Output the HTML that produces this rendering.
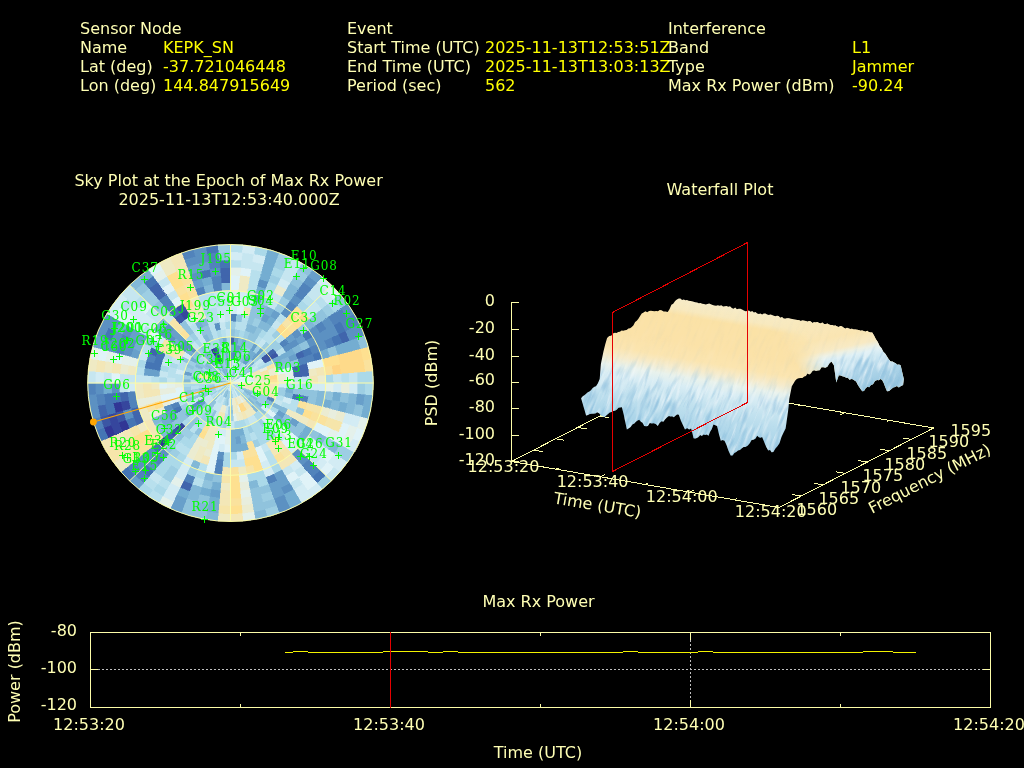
<!DOCTYPE html>
<html lang="en"><head><meta charset="utf-8"><title>Interference Event Report</title>
<style>
html,body{margin:0;padding:0;background:#000;width:1024px;height:768px;overflow:hidden}
svg{display:block;position:absolute;left:0;top:0}
text{font-family:"DejaVu Sans","Liberation Sans",sans-serif;font-size:16px;fill:#ffffb4}
.v{fill:#ffff00}
.s text{font-family:"DejaVu Serif","Liberation Serif",serif;font-size:12px;fill:#00ff00;letter-spacing:0.9px}
.c{text-anchor:middle}
.e{text-anchor:end}
</style></head><body>
<svg width="1024" height="768" viewBox="0 0 1024 768">
<rect width="1024" height="768" fill="#000"/>

<g id="header">
<text x="80" y="34">Sensor Node</text>
<text x="80" y="53">Name</text>
<text x="80" y="72">Lat (deg)</text>
<text x="80" y="91">Lon (deg)</text>
<text x="163" y="53" class="v">KEPK_SN</text>
<text x="163" y="72" class="v">-37.721046448</text>
<text x="163" y="91" class="v">144.847915649</text>
<text x="347" y="34">Event</text>
<text x="347" y="53">Start Time (UTC)</text>
<text x="347" y="72">End Time (UTC)</text>
<text x="347" y="91">Period (sec)</text>
<text x="485" y="53" class="v">2025-11-13T12:53:51Z</text>
<text x="485" y="72" class="v">2025-11-13T13:03:13Z</text>
<text x="485" y="91" class="v">562</text>
<text x="668" y="34">Interference</text>
<text x="668" y="53">Band</text>
<text x="668" y="72">Type</text>
<text x="668" y="91">Max Rx Power (dBm)</text>
<text x="852" y="53" class="v">L1</text>
<text x="852" y="72" class="v">Jammer</text>
<text x="852" y="91" class="v">-90.24</text>
</g>
<text class="c" x="228.6" y="186" textLength="308.4" lengthAdjust="spacing">Sky Plot at the Epoch of Max Rx Power</text>
<text class="c" x="229" y="204.5">2025-11-13T12:53:40.000Z</text>
<text class="c" x="720" y="195">Waterfall Plot</text>
<text class="c" x="538.5" y="607">Max Rx Power</text>
<g id="skycells" shape-rendering="crispEdges">
<path fill="#313695" stroke="#313695" stroke-width="0.4" d="M168.8 442.8L163.2 448.3L157.6 442.4L163.6 437.4ZM129.8 428.5L122.6 431.8L118.7 422.5L126.1 419.8ZM115.5 435.0L108.3 438.3L103.8 427.7L111.2 425.1ZM123.2 410.9L115.6 412.9L113.3 403.0L121.1 401.7ZM214.6 356.3L210.7 349.7L213.7 348.1L217.1 355.1Z"/>
<path fill="#36469d" stroke="#36469d" stroke-width="0.4" d="M185.6 426.5L180.0 432.0L175.8 427.5L181.9 422.6ZM122.6 431.8L115.5 435.0L111.2 425.1L118.7 422.5ZM118.7 422.5L111.2 425.1L107.9 414.9L115.6 412.9ZM130.9 408.9L123.2 410.9L121.1 401.7L128.9 400.4ZM185.0 320.0L180.4 313.7L186.9 309.7L190.8 316.4ZM220.4 362.1L217.1 355.1L219.6 354.1L222.4 361.3Z"/>
<path fill="#3b56a4" stroke="#3b56a4" stroke-width="0.4" d="M260.9 358.3L267.0 353.3L269.5 356.5L263.0 360.9ZM263.0 360.9L269.5 356.5L271.7 359.9L264.9 363.8ZM269.5 356.5L276.0 352.1L278.6 356.1L271.7 359.9ZM180.0 432.0L174.4 437.4L169.7 432.5L175.8 427.5ZM126.1 419.8L118.7 422.5L115.6 412.9L123.2 410.9ZM111.2 425.1L103.8 427.7L100.2 416.9L107.9 414.9ZM179.5 324.1L174.4 318.2L180.4 313.7L185.0 320.0ZM180.4 313.7L175.9 307.4L182.9 303.0L186.9 309.7ZM218.6 363.0L214.6 356.3L217.1 355.1L220.4 362.1ZM217.1 355.1L213.7 348.1L216.9 346.8L219.6 354.1Z"/>
<path fill="#4065ac" stroke="#4065ac" stroke-width="0.4" d="M230.5 344.5L230.5 336.8L234.6 337.0L234.0 344.7ZM267.0 353.3L273.0 348.4L276.0 352.1L269.5 356.5ZM295.2 353.7L302.4 350.5L305.0 356.7L297.6 359.3ZM338.4 334.2L345.5 331.0L349.8 340.9L342.3 343.5ZM291.8 367.1L299.5 365.1L300.8 371.0L293.0 372.3ZM299.5 365.1L307.1 363.1L308.6 369.6L300.8 371.0ZM293.0 372.3L300.8 371.0L301.6 377.0L293.7 377.6ZM300.8 371.0L308.6 369.6L309.5 376.3L301.6 377.0ZM192.5 484.2L189.8 491.5L180.2 487.6L183.6 480.6ZM174.4 437.4L168.8 442.8L163.6 437.4L169.7 432.5ZM144.2 422.0L137.0 425.3L133.6 417.2L141.0 414.6ZM141.0 414.6L133.6 417.2L130.9 408.9L138.5 406.9ZM107.9 414.9L100.2 416.9L97.7 405.7L105.5 404.4ZM128.9 400.4L121.1 401.7L119.9 392.4L127.8 391.7ZM156.0 356.7L148.5 354.1L151.4 347.2L158.6 350.5ZM159.1 300.5L154.0 294.6L162.2 288.5L166.8 294.8ZM154.0 294.6L148.9 288.7L157.7 282.2L162.2 288.5ZM221.5 283.4L220.8 275.7L230.5 275.3L230.5 283.0ZM220.8 275.7L220.1 268.0L230.5 267.6L230.5 275.3Z"/>
<path fill="#4575b4" stroke="#4575b4" stroke-width="0.4" d="M302.0 334.5L308.5 330.0L312.9 336.8L306.1 340.7ZM333.6 325.3L340.4 321.4L345.5 331.0L338.4 334.2ZM302.4 350.5L309.6 347.2L312.5 354.1L305.0 356.7ZM331.2 337.5L338.4 334.2L342.3 343.5L334.9 346.2ZM312.5 354.1L320.0 351.4L322.5 359.1L314.8 361.1ZM293.0 393.7L300.8 395.0L299.5 400.9L291.8 398.9ZM320.3 470.1L325.9 475.5L317.2 483.2L312.1 477.3ZM154.0 471.4L148.9 477.3L140.7 470.1L146.4 464.6ZM163.2 448.3L157.6 453.7L151.5 447.3L157.6 442.4ZM135.1 475.5L129.5 480.9L121.1 472.0L127.2 467.1ZM182.4 409.9L175.5 413.8L173.0 409.0L180.2 405.8ZM137.0 425.3L129.8 428.5L126.1 419.8L133.6 417.2ZM108.3 438.3L101.1 441.5L96.3 430.4L103.8 427.7ZM115.6 412.9L107.9 414.9L105.5 404.4L113.3 403.0ZM121.1 401.7L113.3 403.0L112.0 393.1L119.9 392.4ZM113.3 403.0L105.5 404.4L104.0 393.7L112.0 393.1ZM160.2 371.0L152.4 369.6L153.9 363.1L161.5 365.1ZM152.4 369.6L144.6 368.3L146.2 361.1L153.9 363.1ZM161.5 365.1L153.9 363.1L156.0 356.7L163.4 359.3ZM163.4 359.3L156.0 356.7L158.6 350.5L165.8 353.7ZM111.2 340.9L103.8 338.3L108.3 327.7L115.5 331.0ZM174.4 318.2L169.3 312.3L175.9 307.4L180.4 313.7ZM148.9 288.7L143.8 282.8L153.1 275.9L157.7 282.2ZM201.8 278.9L199.7 271.5L209.8 269.3L211.2 276.9ZM207.1 254.2L205.7 246.6L218.1 245.0L218.7 252.7ZM220.1 268.0L219.4 260.4L230.5 259.9L230.5 267.6Z"/>
<path fill="#5183bb" stroke="#5183bb" stroke-width="0.4" d="M230.5 321.4L230.5 313.8L236.7 314.0L236.0 321.7ZM232.6 360.0L233.3 352.3L236.0 352.7L234.6 360.3ZM285.1 307.4L289.7 301.1L296.8 306.4L291.7 312.3ZM294.2 294.8L298.8 288.5L307.0 294.6L301.9 300.5ZM298.8 288.5L303.3 282.2L312.1 288.7L307.0 294.6ZM279.1 343.4L285.2 338.5L289.0 343.3L282.5 347.7ZM315.0 325.6L321.5 321.2L326.7 329.1L319.8 333.0ZM328.0 316.8L334.5 312.4L340.4 321.4L333.6 325.3ZM334.5 312.4L341.0 308.0L347.3 317.6L340.4 321.4ZM340.4 321.4L347.3 317.6L352.7 327.7L345.5 331.0ZM347.3 317.6L354.2 313.8L359.9 324.5L352.7 327.7ZM309.6 347.2L316.8 344.0L320.0 351.4L312.5 354.1ZM324.0 340.7L331.2 337.5L334.9 346.2L327.4 348.8ZM297.6 359.3L305.0 356.7L307.1 363.1L299.5 365.1ZM305.0 356.7L312.5 354.1L314.8 361.1L307.1 363.1ZM300.8 395.0L308.6 396.4L307.1 402.9L299.5 400.9ZM267.8 396.2L275.2 398.8L273.6 402.5L266.5 399.3ZM309.0 459.2L314.6 464.6L307.0 471.4L301.9 465.5ZM314.6 464.6L320.3 470.1L312.1 477.3L307.0 471.4ZM274.1 473.7L277.4 480.6L268.5 484.2L265.8 477.0ZM223.6 459.7L222.9 467.3L215.3 466.4L216.7 458.8ZM222.9 467.3L222.2 475.0L214.0 473.9L215.3 466.4ZM195.2 477.0L192.5 484.2L183.6 480.6L186.9 473.7ZM164.2 459.6L159.1 465.5L152.0 459.2L157.6 453.7ZM148.9 477.3L143.8 483.2L135.1 475.5L140.7 470.1ZM140.7 470.1L135.1 475.5L127.2 467.1L133.3 462.1ZM204.5 400.7L198.0 405.1L196.1 402.2L203.0 398.4ZM180.2 405.8L173.0 409.0L170.9 404.1L178.3 401.4ZM103.8 427.7L96.3 430.4L92.6 418.8L100.2 416.9ZM138.5 406.9L130.9 408.9L128.9 400.4L136.7 399.0ZM136.7 399.0L128.9 400.4L127.8 391.7L135.7 391.0ZM105.5 404.4L97.7 405.7L96.1 394.4L104.0 393.7ZM96.1 394.4L88.2 395.1L87.7 383.0L95.6 383.0ZM153.9 363.1L146.2 361.1L148.5 354.1L156.0 356.7ZM123.2 355.1L115.6 353.1L118.7 343.5L126.1 346.2ZM126.1 346.2L118.7 343.5L122.6 334.2L129.8 337.5ZM169.3 312.3L164.2 306.4L171.3 301.1L175.9 307.4ZM164.2 306.4L159.1 300.5L166.8 294.8L171.3 301.1ZM197.9 296.2L195.2 289.0L203.8 286.4L205.9 293.8ZM184.4 260.1L181.7 252.9L193.5 249.2L195.6 256.7ZM214.0 292.1L212.6 284.5L221.5 283.4L222.2 291.0ZM212.6 284.5L211.2 276.9L220.8 275.7L221.5 283.4ZM209.8 269.3L208.5 261.8L219.4 260.4L220.1 268.0ZM208.5 261.8L207.1 254.2L218.7 252.7L219.4 260.4Z"/>
<path fill="#5c91c2" stroke="#5c91c2" stroke-width="0.4" d="M230.5 359.9L230.5 352.2L233.3 352.3L232.6 360.0ZM257.2 286.4L259.2 278.9L268.5 281.8L265.8 289.0ZM280.6 313.7L285.1 307.4L291.7 312.3L286.6 318.2ZM289.7 301.1L294.2 294.8L301.9 300.5L296.8 306.4ZM303.3 282.2L307.9 275.9L317.2 282.8L312.1 288.7ZM291.3 333.5L297.4 328.6L302.0 334.5L295.5 338.9ZM282.5 347.7L289.0 343.3L292.3 348.4L285.5 352.2ZM289.0 343.3L295.5 338.9L299.2 344.5L292.3 348.4ZM308.5 330.0L315.0 325.6L319.8 333.0L312.9 336.8ZM321.5 321.2L328.0 316.8L333.6 325.3L326.7 329.1ZM341.0 308.0L347.5 303.6L354.2 313.8L347.3 317.6ZM306.1 340.7L312.9 336.8L316.8 344.0L309.6 347.2ZM312.9 336.8L319.8 333.0L324.0 340.7L316.8 344.0ZM319.8 333.0L326.7 329.1L331.2 337.5L324.0 340.7ZM326.7 329.1L333.6 325.3L338.4 334.2L331.2 337.5ZM316.8 344.0L324.0 340.7L327.4 348.8L320.0 351.4ZM345.5 331.0L352.7 327.7L357.2 338.3L349.8 340.9ZM352.7 327.7L359.9 324.5L364.7 335.6L357.2 338.3ZM297.8 448.3L303.4 453.7L296.8 459.6L291.7 453.7ZM303.4 453.7L309.0 459.2L301.9 465.5L296.8 459.6ZM290.0 483.0L294.0 489.6L284.1 494.6L280.8 487.6ZM284.1 494.6L287.5 501.6L276.6 505.9L273.9 498.7ZM287.5 501.6L290.8 508.5L279.3 513.1L276.6 505.9ZM224.3 452.0L223.6 459.7L216.7 458.8L218.1 451.2ZM169.3 453.7L164.2 459.6L157.6 453.7L163.2 448.3ZM159.1 465.5L154.0 471.4L146.4 464.6L152.0 459.2ZM157.6 453.7L152.0 459.2L145.4 452.2L151.5 447.3ZM152.0 459.2L146.4 464.6L139.3 457.2L145.4 452.2ZM146.4 464.6L140.7 470.1L133.3 462.1L139.3 457.2ZM198.0 405.1L191.5 409.5L189.3 406.1L196.1 402.2ZM173.0 409.0L165.8 412.3L163.4 406.7L170.9 404.1ZM133.6 417.2L126.1 419.8L123.2 410.9L130.9 408.9ZM100.2 416.9L92.6 418.8L89.9 407.1L97.7 405.7ZM97.7 405.7L89.9 407.1L88.2 395.1L96.1 394.4ZM119.9 392.4L112.0 393.1L111.5 383.0L119.4 383.0ZM104.0 393.7L96.1 394.4L95.6 383.0L103.6 383.0ZM130.9 357.1L123.2 355.1L126.1 346.2L133.6 348.8ZM115.6 353.1L107.9 351.1L111.2 340.9L118.7 343.5ZM107.9 351.1L100.2 349.1L103.8 338.3L111.2 340.9ZM133.6 348.8L126.1 346.2L129.8 337.5L137.0 340.7ZM118.7 343.5L111.2 340.9L115.5 331.0L122.6 334.2ZM103.8 338.3L96.3 335.6L101.1 324.5L108.3 327.7ZM129.8 337.5L122.6 334.2L127.4 325.3L134.3 329.1ZM115.5 331.0L108.3 327.7L113.7 317.6L120.6 321.4ZM108.3 327.7L101.1 324.5L106.8 313.8L113.7 317.6ZM185.0 352.1L178.5 347.7L181.9 343.4L188.0 348.4ZM172.0 343.3L165.5 338.9L169.7 333.5L175.8 338.5ZM165.5 338.9L159.0 334.5L163.6 328.6L169.7 333.5ZM194.0 353.3L188.0 348.4L191.2 344.9L196.8 350.4ZM188.0 348.4L181.9 343.4L185.6 339.5L191.2 344.9ZM169.7 333.5L163.6 328.6L168.8 323.2L174.4 328.6ZM192.5 281.8L189.8 274.5L199.7 271.5L201.8 278.9ZM187.1 267.3L184.4 260.1L195.6 256.7L197.6 264.1ZM216.1 331.0L214.1 323.5L219.5 322.4L220.9 330.0ZM197.6 264.1L195.6 256.7L207.1 254.2L208.5 261.8ZM195.6 256.7L193.5 249.2L205.7 246.6L207.1 254.2ZM211.2 276.9L209.8 269.3L220.1 268.0L220.8 275.7Z"/>
<path fill="#689fca" stroke="#689fca" stroke-width="0.4" d="M233.3 352.3L234.0 344.7L237.4 345.1L236.0 352.7ZM234.0 344.7L234.6 337.0L238.8 337.5L237.4 345.1ZM236.0 352.7L237.4 345.1L240.8 345.8L238.7 353.3ZM253.1 301.2L255.1 293.8L263.1 296.2L260.3 303.5ZM260.7 320.2L264.0 313.3L270.2 316.4L266.2 323.0ZM242.4 363.0L246.4 356.3L248.7 357.8L244.2 364.1ZM250.3 349.7L254.3 343.0L257.8 345.2L253.3 351.5ZM270.2 316.4L274.1 309.7L280.6 313.7L276.0 320.0ZM244.2 364.1L248.7 357.8L250.9 359.4L245.8 365.3ZM307.9 275.9L312.4 269.5L322.3 276.9L317.2 282.8ZM250.9 359.4L256.0 353.5L258.5 355.8L252.9 361.2ZM256.0 353.5L261.1 347.6L264.2 350.4L258.5 355.8ZM285.2 338.5L291.3 333.5L295.5 338.9L289.0 343.3ZM295.5 338.9L302.0 334.5L306.1 340.7L299.2 344.5ZM288.0 357.0L295.2 353.7L297.6 359.3L290.1 361.9ZM357.0 393.7L364.9 394.4L363.3 405.7L355.5 404.4ZM278.6 409.9L285.5 413.8L282.5 418.3L276.0 413.9ZM292.3 417.6L299.2 421.5L295.5 427.1L289.0 422.7ZM282.1 469.6L286.0 476.3L277.4 480.6L274.1 473.7ZM286.0 476.3L290.0 483.0L280.8 487.6L277.4 480.6ZM277.4 480.6L280.8 487.6L271.2 491.5L268.5 484.2ZM280.8 487.6L284.1 494.6L273.9 498.7L271.2 491.5ZM240.1 436.0L241.5 443.6L236.0 444.3L235.3 436.7ZM220.8 490.3L220.1 498.0L209.8 496.7L211.2 489.1ZM187.1 498.7L184.4 505.9L173.5 501.6L176.9 494.6ZM184.4 505.9L181.7 513.1L170.2 508.5L173.5 501.6ZM143.8 483.2L138.7 489.1L129.5 480.9L135.1 475.5ZM206.2 402.8L200.1 407.7L198.0 405.1L204.5 400.7ZM200.1 407.7L194.0 412.7L191.5 409.5L198.0 405.1ZM178.5 418.3L172.0 422.7L168.7 417.6L175.5 413.8ZM175.5 413.8L168.7 417.6L165.8 412.3L173.0 409.0ZM222.6 382.3L214.7 381.7L214.9 380.3L222.7 381.7ZM159.4 377.0L151.5 376.3L152.4 369.6L160.2 371.0ZM151.5 376.3L143.6 375.6L144.6 368.3L152.4 369.6ZM191.4 376.3L183.6 375.0L184.5 371.1L192.2 373.0ZM138.5 359.1L130.9 357.1L133.6 348.8L141.0 351.4ZM100.2 349.1L92.6 347.2L96.3 335.6L103.8 338.3ZM144.2 344.0L137.0 340.7L141.2 333.0L148.1 336.8ZM137.0 340.7L129.8 337.5L134.3 329.1L141.2 333.0ZM181.9 343.4L175.8 338.5L180.0 334.0L185.6 339.5ZM175.8 338.5L169.7 333.5L174.4 328.6L180.0 334.0ZM213.7 366.7L208.1 361.2L210.1 359.4L215.2 365.3ZM230.5 383.0L225.9 376.7L226.5 376.3ZM195.2 289.0L192.5 281.8L201.8 278.9L203.8 286.4ZM189.8 274.5L187.1 267.3L197.6 264.1L199.7 271.5ZM199.7 271.5L197.6 264.1L208.5 261.8L209.8 269.3Z"/>
<path fill="#74add1" stroke="#74add1" stroke-width="0.4" d="M230.5 383.0L230.5 375.3L231.2 375.3ZM230.5 352.2L230.5 344.5L234.0 344.7L233.3 352.3ZM240.8 345.8L242.8 338.4L246.8 339.6L244.1 346.8ZM255.1 293.8L257.2 286.4L265.8 289.0L263.1 296.2ZM259.2 278.9L261.3 271.5L271.2 274.5L268.5 281.8ZM261.3 271.5L263.4 264.1L273.9 267.3L271.2 274.5ZM263.4 264.1L265.4 256.7L276.6 260.1L273.9 267.3ZM265.4 256.7L267.5 249.2L279.3 252.9L276.6 260.1ZM264.0 313.3L267.4 306.3L274.1 309.7L270.2 316.4ZM246.4 356.3L250.3 349.7L253.3 351.5L248.7 357.8ZM266.2 323.0L270.2 316.4L276.0 320.0L271.5 326.3ZM248.7 357.8L253.3 351.5L256.0 353.5L250.9 359.4ZM240.7 371.2L245.8 365.3L247.3 366.7L241.7 372.1ZM247.3 366.7L252.9 361.2L254.8 363.2L248.7 368.2ZM271.7 359.9L278.6 356.1L280.8 360.2L273.6 363.5ZM278.6 356.1L285.5 352.2L288.0 357.0L280.8 360.2ZM285.5 352.2L292.3 348.4L295.2 353.7L288.0 357.0ZM273.6 363.5L280.8 360.2L282.7 364.6L275.2 367.2ZM320.0 351.4L327.4 348.8L330.1 357.1L322.5 359.1ZM334.9 346.2L342.3 343.5L345.4 353.1L337.8 355.1ZM342.3 343.5L349.8 340.9L353.1 351.1L345.4 353.1ZM349.8 340.9L357.2 338.3L360.8 349.1L353.1 351.1ZM285.8 387.7L293.7 388.4L293.0 393.7L285.2 392.4ZM333.2 391.7L341.1 392.4L339.9 401.7L332.1 400.4ZM364.9 394.4L372.8 395.1L371.1 407.1L363.3 405.7ZM324.3 399.0L332.1 400.4L330.1 408.9L322.5 406.9ZM339.9 401.7L347.7 403.0L345.4 412.9L337.8 410.9ZM363.3 405.7L371.1 407.1L368.4 418.8L360.8 416.9ZM306.1 425.3L312.9 429.2L308.5 436.0L302.0 431.5ZM276.0 413.9L282.5 418.3L279.1 422.6L273.0 417.6ZM302.0 431.5L308.5 436.0L303.4 442.4L297.4 437.4ZM294.0 489.6L297.9 496.3L287.5 501.6L284.1 494.6ZM297.9 496.3L301.9 502.9L290.8 508.5L287.5 501.6ZM242.8 427.6L244.9 435.0L240.1 436.0L238.8 428.5ZM246.9 442.5L249.0 449.9L242.9 451.2L241.5 443.6ZM238.8 428.5L240.1 436.0L235.3 436.7L234.6 429.0ZM241.5 443.6L242.9 451.2L236.7 452.0L236.0 444.3ZM234.6 429.0L235.3 436.7L230.5 436.9L230.5 429.2ZM235.3 436.7L236.0 444.3L230.5 444.6L230.5 436.9ZM236.0 444.3L236.7 452.0L230.5 452.2L230.5 444.6ZM221.5 482.6L220.8 490.3L211.2 489.1L212.6 481.5ZM220.1 498.0L219.4 505.6L208.5 504.2L209.8 496.7ZM219.4 505.6L218.7 513.3L207.1 511.8L208.5 504.2ZM211.2 489.1L209.8 496.7L199.7 494.5L201.8 487.1ZM189.8 491.5L187.1 498.7L176.9 494.6L180.2 487.6ZM194.0 412.7L188.0 417.6L185.0 413.9L191.5 409.5ZM172.0 422.7L165.5 427.1L161.8 421.5L168.7 417.6ZM168.7 417.6L161.8 421.5L158.6 415.5L165.8 412.3ZM112.0 393.1L104.0 393.7L103.6 383.0L111.5 383.0ZM222.6 383.0L214.6 383.0L214.7 381.7L222.6 382.3ZM230.5 383.0L222.7 381.7L222.8 381.0ZM141.0 351.4L133.6 348.8L137.0 340.7L144.2 344.0ZM216.1 376.5L208.9 373.2L209.9 371.5L216.8 375.3ZM122.6 334.2L115.5 331.0L120.6 321.4L127.4 325.3ZM196.1 363.8L189.3 359.9L191.5 356.5L198.0 360.9ZM191.5 356.5L185.0 352.1L188.0 348.4L194.0 353.3ZM178.5 347.7L172.0 343.3L175.8 338.5L181.9 343.4ZM159.0 334.5L152.5 330.0L157.6 323.6L163.6 328.6ZM230.5 383.0L224.4 378.1L224.9 377.6ZM143.8 282.8L138.7 276.9L148.6 269.5L153.1 275.9ZM216.8 364.1L212.3 357.8L214.6 356.3L218.6 363.0ZM226.5 376.3L222.6 369.7L223.8 369.1L227.1 376.0ZM222.6 369.7L218.6 363.0L220.4 362.1L223.8 369.1ZM198.8 329.7L194.8 323.0L200.3 320.2L203.7 327.2ZM227.8 375.8L225.1 368.5L226.4 368.1L228.4 375.6ZM230.5 383.0L228.4 375.6L229.1 375.4ZM203.8 286.4L201.8 278.9L211.2 276.9L212.6 284.5ZM227.7 367.8L226.4 360.3L228.4 360.0L229.1 367.7ZM226.4 360.3L225.0 352.7L227.7 352.3L228.4 360.0ZM223.6 345.1L222.2 337.5L226.4 337.0L227.0 344.7Z"/>
<path fill="#82b8d7" stroke="#82b8d7" stroke-width="0.4" d="M230.5 383.0L231.9 375.4L232.6 375.6ZM237.4 345.1L238.8 337.5L242.8 338.4L240.8 345.8ZM238.7 353.3L240.8 345.8L244.1 346.8L241.4 354.1ZM244.9 331.0L246.9 323.5L252.2 325.2L249.5 332.4ZM249.5 332.4L252.2 325.2L257.3 327.2L254.0 334.2ZM257.6 310.7L260.3 303.5L267.4 306.3L264.0 313.3ZM230.5 383.0L233.9 376.0L234.5 376.3ZM240.6 362.1L243.9 355.1L246.4 356.3L242.4 363.0ZM257.3 327.2L260.7 320.2L266.2 323.0L262.2 329.7ZM230.5 383.0L234.5 376.3L235.1 376.7ZM262.2 329.7L266.2 323.0L271.5 326.3L266.9 332.6ZM282.1 296.4L286.0 289.7L294.2 294.8L289.7 301.1ZM286.0 289.7L290.0 283.0L298.8 288.5L294.2 294.8ZM303.4 323.6L309.5 318.7L315.0 325.6L308.5 330.0ZM237.0 378.6L243.5 374.2L244.2 375.3L237.4 379.2ZM292.3 348.4L299.2 344.5L302.4 350.5L295.2 353.7ZM280.8 360.2L288.0 357.0L290.1 361.9L282.7 364.6ZM275.2 367.2L282.7 364.6L284.1 369.1L276.5 371.1ZM317.4 390.4L325.3 391.0L324.3 399.0L316.4 397.7ZM349.0 393.1L357.0 393.7L355.5 404.4L347.7 403.0ZM285.2 392.4L293.0 393.7L291.8 398.9L284.1 396.9ZM316.4 397.7L324.3 399.0L322.5 406.9L314.8 404.9ZM332.1 400.4L339.9 401.7L337.8 410.9L330.1 408.9ZM347.7 403.0L355.5 404.4L353.1 414.9L345.4 412.9ZM252.9 390.9L260.3 393.5L259.3 396.0L252.1 392.8ZM237.7 386.3L244.9 389.5L244.2 390.7L237.4 386.8ZM244.9 389.5L252.1 392.8L251.1 394.5L244.2 390.7ZM266.5 399.3L273.6 402.5L271.7 406.1L264.9 402.2ZM273.6 402.5L280.8 405.8L278.6 409.9L271.7 406.1ZM280.8 405.8L288.0 409.0L285.5 413.8L278.6 409.9ZM244.2 390.7L251.1 394.5L250.0 396.2L243.5 391.8ZM251.1 394.5L258.0 398.4L256.5 400.7L250.0 396.2ZM319.8 433.0L326.7 436.9L321.5 444.8L315.0 440.4ZM333.6 440.7L340.4 444.6L334.5 453.6L328.0 449.2ZM256.5 400.7L263.0 405.1L260.9 407.7L254.8 402.8ZM282.5 418.3L289.0 422.7L285.2 427.5L279.1 422.6ZM248.7 397.8L254.8 402.8L252.9 404.8L247.3 399.3ZM252.9 404.8L258.5 410.2L256.0 412.5L250.9 406.6ZM244.9 435.0L246.9 442.5L241.5 443.6L240.1 436.0ZM257.2 479.6L259.2 487.1L249.8 489.1L248.4 481.5ZM265.4 509.3L267.5 516.8L255.3 519.4L253.9 511.8ZM218.7 513.3L218.1 521.0L205.7 519.4L207.1 511.8ZM214.0 473.9L212.6 481.5L203.8 479.6L205.9 472.2ZM208.5 504.2L207.1 511.8L195.6 509.3L197.6 501.9ZM228.4 390.4L226.4 397.9L225.1 397.5L227.8 390.2ZM201.8 487.1L199.7 494.5L189.8 491.5L192.5 484.2ZM199.7 494.5L197.6 501.9L187.1 498.7L189.8 491.5ZM200.7 462.5L197.9 469.8L190.3 466.7L193.6 459.7ZM175.8 427.5L169.7 432.5L165.5 427.1L172.0 422.7ZM169.7 432.5L163.6 437.4L159.0 431.5L165.5 427.1ZM161.8 421.5L154.9 425.3L151.4 418.8L158.6 415.5ZM207.5 389.0L199.8 391.0L199.2 388.3L207.1 387.0ZM190.8 383.0L182.9 383.0L183.1 379.0L191.0 379.6ZM214.7 381.7L206.8 381.0L207.1 379.0L214.9 380.3ZM198.9 380.3L191.0 379.6L191.4 376.3L199.2 377.7ZM222.7 381.7L214.9 380.3L215.2 379.0L222.8 381.0ZM208.1 375.1L200.7 372.5L201.7 370.0L208.9 373.2ZM201.7 370.0L194.5 366.7L196.1 363.8L203.0 367.6ZM223.6 379.2L216.8 375.3L217.5 374.2L224.0 378.6ZM211.0 369.8L204.5 365.3L206.2 363.2L212.3 368.2ZM163.6 328.6L157.6 323.6L163.2 317.7L168.8 323.2ZM224.9 377.6L219.3 372.1L220.3 371.2L225.4 377.1ZM208.1 361.2L202.5 355.8L205.0 353.5L210.1 359.4ZM135.1 290.5L129.5 285.1L138.7 276.9L143.8 282.8ZM220.3 371.2L215.2 365.3L216.8 364.1L221.4 370.4ZM215.2 365.3L210.1 359.4L212.3 357.8L216.8 364.1ZM210.1 359.4L205.0 353.5L207.7 351.5L212.3 357.8ZM225.9 376.7L221.4 370.4L222.6 369.7L226.5 376.3ZM212.3 357.8L207.7 351.5L210.7 349.7L214.6 356.3ZM206.7 343.0L202.7 336.4L207.0 334.2L210.4 341.2ZM227.1 376.0L223.8 369.1L225.1 368.5L227.8 375.8ZM203.7 327.2L200.3 320.2L206.1 317.9L208.8 325.2ZM219.6 354.1L216.9 346.8L220.2 345.8L222.3 353.3ZM226.4 368.1L224.3 360.7L226.4 360.3L227.7 367.8ZM205.9 293.8L203.8 286.4L212.6 284.5L214.0 292.1ZM229.8 375.3L229.1 367.7L230.5 367.6L230.5 375.3ZM222.2 291.0L221.5 283.4L230.5 283.0L230.5 290.7Z"/>
<path fill="#90c3dd" stroke="#90c3dd" stroke-width="0.4" d="M230.5 336.8L230.5 329.1L235.3 329.3L234.6 337.0ZM236.0 321.7L236.7 314.0L242.9 314.8L241.5 322.4ZM234.6 360.3L236.0 352.7L238.7 353.3L236.7 360.7ZM232.6 375.6L234.6 368.1L235.9 368.5L233.2 375.8ZM236.7 360.7L238.7 353.3L241.4 354.1L238.6 361.3ZM246.9 323.5L249.0 316.1L254.9 317.9L252.2 325.2ZM249.0 316.1L251.0 308.7L257.6 310.7L254.9 317.9ZM251.0 308.7L253.1 301.2L260.3 303.5L257.6 310.7ZM233.2 375.8L235.9 368.5L237.2 369.1L233.9 376.0ZM238.6 361.3L241.4 354.1L243.9 355.1L240.6 362.1ZM244.1 346.8L246.8 339.6L250.6 341.2L247.3 348.1ZM246.8 339.6L249.5 332.4L254.0 334.2L250.6 341.2ZM254.9 317.9L257.6 310.7L264.0 313.3L260.7 320.2ZM247.3 348.1L250.6 341.2L254.3 343.0L250.3 349.7ZM250.6 341.2L254.0 334.2L258.3 336.4L254.3 343.0ZM254.0 334.2L257.3 327.2L262.2 329.7L258.3 336.4ZM290.0 283.0L294.0 276.4L303.3 282.2L298.8 288.5ZM297.9 269.7L301.9 263.1L312.4 269.5L307.9 275.9ZM241.7 372.1L247.3 366.7L248.7 368.2L242.7 373.1ZM258.5 355.8L264.2 350.4L267.0 353.3L260.9 358.3ZM309.5 318.7L315.6 313.8L321.5 321.2L315.0 325.6ZM315.6 313.8L321.7 308.8L328.0 316.8L321.5 321.2ZM333.8 298.9L339.9 294.0L347.5 303.6L341.0 308.0ZM243.5 374.2L250.0 369.8L251.1 371.5L244.2 375.3ZM299.2 344.5L306.1 340.7L309.6 347.2L302.4 350.5ZM282.7 364.6L290.1 361.9L291.8 367.1L284.1 369.1ZM290.1 361.9L297.6 359.3L299.5 365.1L291.8 367.1ZM327.4 348.8L334.9 346.2L337.8 355.1L330.1 357.1ZM357.2 338.3L364.7 335.6L368.4 347.2L360.8 349.1ZM293.7 388.4L301.6 389.0L300.8 395.0L293.0 393.7ZM301.6 389.0L309.5 389.7L308.6 396.4L300.8 395.0ZM309.5 389.7L317.4 390.4L316.4 397.7L308.6 396.4ZM325.3 391.0L333.2 391.7L332.1 400.4L324.3 399.0ZM341.1 392.4L349.0 393.1L347.7 403.0L339.9 401.7ZM308.6 396.4L316.4 397.7L314.8 404.9L307.1 402.9ZM355.5 404.4L363.3 405.7L360.8 416.9L353.1 414.9ZM245.4 388.3L252.9 390.9L252.1 392.8L244.9 389.5ZM297.6 406.7L305.0 409.3L302.4 415.5L295.2 412.3ZM230.5 383.0L237.7 386.3L237.4 386.8ZM285.5 413.8L292.3 417.6L289.0 422.7L282.5 418.3ZM299.2 421.5L306.1 425.3L302.0 431.5L295.5 427.1ZM312.9 429.2L319.8 433.0L315.0 440.4L308.5 436.0ZM250.0 396.2L256.5 400.7L254.8 402.8L248.7 397.8ZM289.0 422.7L295.5 427.1L291.3 432.5L285.2 427.5ZM295.5 427.1L302.0 431.5L297.4 437.4L291.3 432.5ZM254.8 402.8L260.9 407.7L258.5 410.2L252.9 404.8ZM260.9 407.7L267.0 412.7L264.2 415.6L258.5 410.2ZM268.5 484.2L271.2 491.5L261.3 494.5L259.2 487.1ZM273.9 498.7L276.6 505.9L265.4 509.3L263.4 501.9ZM259.2 487.1L261.3 494.5L251.2 496.7L249.8 489.1ZM261.3 494.5L263.4 501.9L252.5 504.2L251.2 496.7ZM263.4 501.9L265.4 509.3L253.9 511.8L252.5 504.2ZM232.6 406.0L233.3 413.7L230.5 413.8L230.5 406.1ZM229.1 398.3L228.4 406.0L226.4 405.7L227.7 398.2ZM222.2 475.0L221.5 482.6L212.6 481.5L214.0 473.9ZM212.6 481.5L211.2 489.1L201.8 487.1L203.8 479.6ZM209.8 496.7L208.5 504.2L197.6 501.9L199.7 494.5ZM207.1 511.8L205.7 519.4L193.5 516.8L195.6 509.3ZM197.6 501.9L195.6 509.3L184.4 505.9L187.1 498.7ZM195.6 509.3L193.5 516.8L181.7 513.1L184.4 505.9ZM230.5 383.0L227.8 390.2L227.1 390.0ZM227.8 390.2L225.1 397.5L223.8 396.9L227.1 390.0ZM227.1 390.0L223.8 396.9L222.6 396.3L226.5 389.7ZM217.1 410.9L213.7 417.9L210.7 416.3L214.6 409.7ZM213.7 417.9L210.4 424.8L206.7 423.0L210.7 416.3ZM202.7 429.6L198.8 436.3L194.1 433.4L198.6 427.1ZM230.5 383.0L225.9 389.3L225.4 388.9ZM216.8 401.9L212.3 408.2L210.1 406.6L215.2 400.7ZM212.3 408.2L207.7 414.5L205.0 412.5L210.1 406.6ZM230.5 383.0L225.4 388.9L224.9 388.4ZM220.3 394.8L215.2 400.7L213.7 399.3L219.3 393.9ZM215.2 400.7L210.1 406.6L208.1 404.8L213.7 399.3ZM199.9 418.4L194.8 424.3L191.2 421.1L196.8 415.6ZM194.8 424.3L189.7 430.2L185.6 426.5L191.2 421.1ZM184.6 436.0L179.5 441.9L174.4 437.4L180.0 432.0ZM174.4 447.8L169.3 453.7L163.2 448.3L168.8 442.8ZM208.1 404.8L202.5 410.2L200.1 407.7L206.2 402.8ZM230.5 383.0L224.4 387.9L224.0 387.4ZM188.0 417.6L181.9 422.6L178.5 418.3L185.0 413.9ZM181.9 422.6L175.8 427.5L172.0 422.7L178.5 418.3ZM191.5 409.5L185.0 413.9L182.4 409.9L189.3 406.1ZM185.0 413.9L178.5 418.3L175.5 413.8L182.4 409.9ZM165.5 427.1L159.0 431.5L154.9 425.3L161.8 421.5ZM209.9 394.5L203.0 398.4L201.7 396.0L208.9 392.8ZM230.5 383.0L223.3 386.3L223.0 385.6ZM208.9 392.8L201.7 396.0L200.7 393.5L208.1 390.9ZM201.7 396.0L194.5 399.3L193.2 396.2L200.7 393.5ZM194.5 399.3L187.4 402.5L185.8 398.8L193.2 396.2ZM215.6 388.3L208.1 390.9L207.5 389.0L215.2 387.0ZM215.2 387.0L207.5 389.0L207.1 387.0L214.9 385.7ZM192.2 393.0L184.5 394.9L183.6 391.0L191.4 389.7ZM206.7 383.0L198.8 383.0L198.9 380.3L206.8 381.0ZM230.5 383.0L222.8 381.0L223.0 380.4ZM215.6 377.7L208.1 375.1L208.9 373.2L216.1 376.5ZM193.2 369.8L185.8 367.2L187.4 363.5L194.5 366.7ZM230.5 383.0L223.3 379.7L223.6 379.2ZM187.4 363.5L180.2 360.2L182.4 356.1L189.3 359.9ZM151.4 347.2L144.2 344.0L148.1 336.8L154.9 340.7ZM216.8 375.3L209.9 371.5L211.0 369.8L217.5 374.2ZM209.9 371.5L203.0 367.6L204.5 365.3L211.0 369.8ZM203.0 367.6L196.1 363.8L198.0 360.9L204.5 365.3ZM198.0 360.9L191.5 356.5L194.0 353.3L200.1 358.3ZM218.3 373.1L212.3 368.2L213.7 366.7L219.3 372.1ZM212.3 368.2L206.2 363.2L208.1 361.2L213.7 366.7ZM200.1 358.3L194.0 353.3L196.8 350.4L202.5 355.8ZM157.6 312.3L152.0 306.8L159.1 300.5L164.2 306.4ZM140.7 295.9L135.1 290.5L143.8 282.8L148.9 288.7ZM205.0 353.5L199.9 347.6L203.2 345.2L207.7 351.5ZM189.7 335.8L184.6 330.0L189.5 326.3L194.1 332.6ZM184.6 330.0L179.5 324.1L185.0 320.0L189.5 326.3ZM202.7 336.4L198.8 329.7L203.7 327.2L207.0 334.2ZM223.8 369.1L220.4 362.1L222.4 361.3L225.1 368.5ZM210.4 341.2L207.0 334.2L211.5 332.4L214.2 339.6ZM207.0 334.2L203.7 327.2L208.8 325.2L211.5 332.4ZM228.4 375.6L226.4 368.1L227.7 367.8L229.1 375.4ZM224.3 360.7L222.3 353.3L225.0 352.7L226.4 360.3ZM220.2 345.8L218.2 338.4L222.2 337.5L223.6 345.1ZM229.1 367.7L228.4 360.0L230.5 359.9L230.5 367.6ZM228.4 360.0L227.7 352.3L230.5 352.2L230.5 359.9ZM219.4 260.4L218.7 252.7L230.5 252.2L230.5 259.9Z"/>
<path fill="#9dcee3" stroke="#9dcee3" stroke-width="0.4" d="M230.5 367.6L230.5 359.9L232.6 360.0L231.9 367.7ZM230.5 329.1L230.5 321.4L236.0 321.7L235.3 329.3ZM234.6 337.0L235.3 329.3L240.1 330.0L238.8 337.5ZM231.9 375.4L233.3 367.8L234.6 368.1L232.6 375.6ZM242.8 338.4L244.9 331.0L249.5 332.4L246.8 339.6ZM241.4 354.1L244.1 346.8L247.3 348.1L243.9 355.1ZM252.2 325.2L254.9 317.9L260.7 320.2L257.3 327.2ZM260.3 303.5L263.1 296.2L270.7 299.3L267.4 306.3ZM268.5 281.8L271.2 274.5L280.8 278.4L277.4 285.4ZM273.9 267.3L276.6 260.1L287.5 264.4L284.1 271.4ZM276.6 260.1L279.3 252.9L290.8 257.5L287.5 264.4ZM237.2 369.1L240.6 362.1L242.4 363.0L238.4 369.7ZM243.9 355.1L247.3 348.1L250.3 349.7L246.4 356.3ZM274.1 309.7L278.1 303.0L285.1 307.4L280.6 313.7ZM278.1 303.0L282.1 296.4L289.7 301.1L285.1 307.4ZM294.0 276.4L297.9 269.7L307.9 275.9L303.3 282.2ZM253.3 351.5L257.8 345.2L261.1 347.6L256.0 353.5ZM230.5 383.0L235.6 377.1L236.1 377.6ZM245.8 365.3L250.9 359.4L252.9 361.2L247.3 366.7ZM261.1 347.6L266.2 341.7L269.8 344.9L264.2 350.4ZM271.3 335.8L276.4 330.0L281.0 334.0L275.4 339.5ZM252.9 361.2L258.5 355.8L260.9 358.3L254.8 363.2ZM264.2 350.4L269.8 344.9L273.0 348.4L267.0 353.3ZM269.8 344.9L275.4 339.5L279.1 343.4L273.0 348.4ZM236.6 378.1L242.7 373.1L243.5 374.2L237.0 378.6ZM242.7 373.1L248.7 368.2L250.0 369.8L243.5 374.2ZM273.0 348.4L279.1 343.4L282.5 347.7L276.0 352.1ZM297.4 328.6L303.4 323.6L308.5 330.0L302.0 334.5ZM321.7 308.8L327.7 303.9L334.5 312.4L328.0 316.8ZM357.4 383.0L365.4 383.0L364.9 394.4L357.0 393.7ZM230.5 383.0L238.4 383.7L238.3 384.3ZM277.9 387.0L285.8 387.7L285.2 392.4L277.4 391.0ZM230.5 383.0L238.3 384.3L238.2 385.0ZM277.4 391.0L285.2 392.4L284.1 396.9L276.5 394.9ZM230.5 383.0L238.0 385.6L237.7 386.3ZM238.0 385.6L245.4 388.3L244.9 389.5L237.7 386.3ZM260.3 393.5L267.8 396.2L266.5 399.3L259.3 396.0ZM259.3 396.0L266.5 399.3L264.9 402.2L258.0 398.4ZM258.0 398.4L264.9 402.2L263.0 405.1L256.5 400.7ZM326.7 436.9L333.6 440.7L328.0 449.2L321.5 444.8ZM340.4 444.6L347.3 448.4L341.0 458.0L334.5 453.6ZM347.3 448.4L354.2 452.2L347.5 462.4L341.0 458.0ZM243.5 391.8L250.0 396.2L248.7 397.8L242.7 392.9ZM236.6 387.9L242.7 392.9L241.7 393.9L236.1 388.4ZM242.7 392.9L248.7 397.8L247.3 399.3L241.7 393.9ZM230.5 383.0L236.1 388.4L235.6 388.9ZM241.7 393.9L247.3 399.3L245.8 400.7L240.7 394.8ZM247.3 399.3L252.9 404.8L250.9 406.6L245.8 400.7ZM325.9 475.5L331.5 480.9L322.3 489.1L317.2 483.2ZM261.1 418.4L266.2 424.3L262.4 427.1L257.8 420.8ZM271.3 430.2L276.4 436.0L271.5 439.7L266.9 433.4ZM250.6 424.8L254.0 431.8L249.5 433.6L246.8 426.4ZM257.3 438.8L260.7 445.8L254.9 448.1L252.2 440.8ZM271.2 491.5L273.9 498.7L263.4 501.9L261.3 494.5ZM276.6 505.9L279.3 513.1L267.5 516.8L265.4 509.3ZM231.9 390.6L233.3 398.2L231.9 398.3L231.2 390.7ZM230.5 383.0L231.2 390.7L230.5 390.7ZM231.2 390.7L231.9 398.3L230.5 398.4L230.5 390.7ZM231.9 398.3L232.6 406.0L230.5 406.1L230.5 398.4ZM233.3 413.7L234.0 421.3L230.5 421.5L230.5 413.8ZM230.5 383.0L230.5 390.7L229.8 390.7ZM230.5 406.1L230.5 413.8L227.7 413.7L228.4 406.0ZM230.5 413.8L230.5 421.5L227.0 421.3L227.7 413.7ZM229.8 390.7L229.1 398.3L227.7 398.2L229.1 390.6ZM227.0 421.3L226.4 429.0L222.2 428.5L223.6 420.9ZM229.1 390.6L227.7 398.2L226.4 397.9L228.4 390.4ZM227.7 398.2L226.4 405.7L224.3 405.3L226.4 397.9ZM216.9 419.2L214.2 426.4L210.4 424.8L213.7 417.9ZM197.9 469.8L195.2 477.0L186.9 473.7L190.3 466.7ZM210.7 416.3L206.7 423.0L203.2 420.8L207.7 414.5ZM178.9 469.6L175.0 476.3L166.8 471.2L171.3 464.9ZM175.0 476.3L171.0 483.0L162.2 477.5L166.8 471.2ZM225.9 389.3L221.4 395.6L220.3 394.8L225.4 388.9ZM207.7 414.5L203.2 420.8L199.9 418.4L205.0 412.5ZM194.1 433.4L189.5 439.7L184.6 436.0L189.7 430.2ZM180.4 452.3L175.9 458.6L169.3 453.7L174.4 447.8ZM225.4 388.9L220.3 394.8L219.3 393.9L224.9 388.4ZM189.7 430.2L184.6 436.0L180.0 432.0L185.6 426.5ZM179.5 441.9L174.4 447.8L168.8 442.8L174.4 437.4ZM202.5 410.2L196.8 415.6L194.0 412.7L200.1 407.7ZM224.4 387.9L218.3 392.9L217.5 391.8L224.0 387.4ZM230.5 383.0L224.0 387.4L223.6 386.8ZM217.5 391.8L211.0 396.2L209.9 394.5L216.8 390.7ZM189.3 406.1L182.4 409.9L180.2 405.8L187.4 402.5ZM216.1 389.5L208.9 392.8L208.1 390.9L215.6 388.3ZM223.0 385.6L215.6 388.3L215.2 387.0L222.8 385.0ZM208.1 390.9L200.7 393.5L199.8 391.0L207.5 389.0ZM199.8 391.0L192.2 393.0L191.4 389.7L199.2 388.3ZM230.5 383.0L222.7 384.3L222.6 383.7ZM214.9 385.7L207.1 387.0L206.8 385.0L214.7 384.3ZM191.4 389.7L183.6 391.0L183.1 387.0L191.0 386.4ZM230.5 383.0L222.6 383.7L222.6 383.0ZM230.5 383.0L222.6 383.0L222.6 382.3ZM230.5 383.0L222.6 382.3L222.7 381.7ZM191.0 379.6L183.1 379.0L183.6 375.0L191.4 376.3ZM199.8 375.0L192.2 373.0L193.2 369.8L200.7 372.5ZM192.2 373.0L184.5 371.1L185.8 367.2L193.2 369.8ZM223.0 380.4L215.6 377.7L216.1 376.5L223.3 379.7ZM200.7 372.5L193.2 369.8L194.5 366.7L201.7 370.0ZM194.5 366.7L187.4 363.5L189.3 359.9L196.1 363.8ZM158.6 350.5L151.4 347.2L154.9 340.7L161.8 344.5ZM230.5 383.0L224.0 378.6L224.4 378.1ZM217.5 374.2L211.0 369.8L212.3 368.2L218.3 373.1ZM224.4 378.1L218.3 373.1L219.3 372.1L224.9 377.6ZM202.5 355.8L196.8 350.4L199.9 347.6L205.0 353.5ZM163.2 317.7L157.6 312.3L164.2 306.4L169.3 312.3ZM152.0 306.8L146.4 301.4L154.0 294.6L159.1 300.5ZM146.4 301.4L140.7 295.9L148.9 288.7L154.0 294.6ZM230.5 383.0L225.4 377.1L225.9 376.7ZM194.8 341.7L189.7 335.8L194.1 332.6L198.6 338.9ZM221.4 370.4L216.8 364.1L218.6 363.0L222.6 369.7ZM230.5 383.0L227.1 376.0L227.8 375.8ZM225.1 368.5L222.4 361.3L224.3 360.7L226.4 368.1ZM222.4 361.3L219.6 354.1L222.3 353.3L224.3 360.7ZM230.5 383.0L229.1 375.4L229.8 375.3ZM225.0 352.7L223.6 345.1L227.0 344.7L227.7 352.3ZM218.7 252.7L218.1 245.0L230.5 244.5L230.5 252.2Z"/>
<path fill="#abd9e9" stroke="#abd9e9" stroke-width="0.4" d="M230.5 375.3L230.5 367.6L231.9 367.7L231.2 375.3ZM230.5 383.0L231.2 375.3L231.9 375.4ZM231.2 375.3L231.9 367.7L233.3 367.8L231.9 375.4ZM238.8 337.5L240.1 330.0L244.9 331.0L242.8 338.4ZM253.9 254.2L255.3 246.6L267.5 249.2L265.4 256.7ZM230.5 383.0L232.6 375.6L233.2 375.8ZM234.6 368.1L236.7 360.7L238.6 361.3L235.9 368.5ZM265.8 289.0L268.5 281.8L277.4 285.4L274.1 292.3ZM271.2 274.5L273.9 267.3L284.1 271.4L280.8 278.4ZM238.4 369.7L242.4 363.0L244.2 364.1L239.6 370.4ZM258.3 336.4L262.2 329.7L266.9 332.6L262.4 338.9ZM296.8 306.4L301.9 300.5L309.0 306.8L303.4 312.3ZM236.1 377.6L241.7 372.1L242.7 373.1L236.6 378.1ZM327.7 303.9L333.8 298.9L341.0 308.0L334.5 312.4ZM258.0 367.6L264.9 363.8L266.5 366.7L259.3 370.0ZM264.9 363.8L271.7 359.9L273.6 363.5L266.5 366.7ZM325.3 375.0L333.2 374.3L333.6 383.0L325.7 383.0ZM357.0 372.3L364.9 371.6L365.4 383.0L357.4 383.0ZM364.9 371.6L372.8 370.9L373.3 383.0L365.4 383.0ZM301.9 383.0L309.8 383.0L309.5 389.7L301.6 389.0ZM365.4 383.0L373.3 383.0L372.8 395.1L364.9 394.4ZM252.1 392.8L259.3 396.0L258.0 398.4L251.1 394.5ZM230.5 383.0L237.4 386.8L237.0 387.4ZM264.9 402.2L271.7 406.1L269.5 409.5L263.0 405.1ZM271.7 406.1L278.6 409.9L276.0 413.9L269.5 409.5ZM230.5 383.0L237.0 387.4L236.6 387.9ZM230.5 383.0L236.6 387.9L236.1 388.4ZM236.1 388.4L241.7 393.9L240.7 394.8L235.6 388.9ZM258.5 410.2L264.2 415.6L261.1 418.4L256.0 412.5ZM235.6 388.9L240.7 394.8L239.6 395.6L235.1 389.3ZM256.0 412.5L261.1 418.4L257.8 420.8L253.3 414.5ZM235.1 389.3L239.6 395.6L238.4 396.3L234.5 389.7ZM257.8 420.8L262.4 427.1L258.3 429.6L254.3 423.0ZM262.4 427.1L266.9 433.4L262.2 436.3L258.3 429.6ZM266.9 433.4L271.5 439.7L266.2 443.0L262.2 436.3ZM254.3 423.0L258.3 429.6L254.0 431.8L250.6 424.8ZM258.3 429.6L262.2 436.3L257.3 438.8L254.0 431.8ZM262.2 436.3L266.2 443.0L260.7 445.8L257.3 438.8ZM278.1 463.0L282.1 469.6L274.1 473.7L270.7 466.7ZM244.1 419.2L246.8 426.4L242.8 427.6L240.8 420.2ZM246.8 426.4L249.5 433.6L244.9 435.0L242.8 427.6ZM249.5 433.6L252.2 440.8L246.9 442.5L244.9 435.0ZM263.1 469.8L265.8 477.0L257.2 479.6L255.1 472.2ZM265.8 477.0L268.5 484.2L259.2 487.1L257.2 479.6ZM240.8 420.2L242.8 427.6L238.8 428.5L237.4 420.9ZM255.1 472.2L257.2 479.6L248.4 481.5L247.0 473.9ZM230.5 383.0L231.9 390.6L231.2 390.7ZM237.4 420.9L238.8 428.5L234.6 429.0L234.0 421.3ZM236.7 452.0L237.4 459.7L230.5 459.9L230.5 452.2ZM230.5 390.7L230.5 398.4L229.1 398.3L229.8 390.7ZM230.5 452.2L230.5 459.9L223.6 459.7L224.3 452.0ZM230.5 459.9L230.5 467.6L222.9 467.3L223.6 459.7ZM223.6 420.9L222.2 428.5L218.2 427.6L220.2 420.2ZM226.4 397.9L224.3 405.3L222.4 404.7L225.1 397.5ZM205.9 472.2L203.8 479.6L195.2 477.0L197.9 469.8ZM214.6 409.7L210.7 416.3L207.7 414.5L212.3 408.2ZM198.8 436.3L194.8 443.0L189.5 439.7L194.1 433.4ZM194.8 443.0L190.8 449.6L185.0 446.0L189.5 439.7ZM186.9 456.3L182.9 463.0L175.9 458.6L180.4 452.3ZM182.9 463.0L178.9 469.6L171.3 464.9L175.9 458.6ZM167.0 489.6L163.1 496.3L153.1 490.1L157.7 483.8ZM203.2 420.8L198.6 427.1L194.8 424.3L199.9 418.4ZM189.5 439.7L185.0 446.0L179.5 441.9L184.6 436.0ZM175.9 458.6L171.3 464.9L164.2 459.6L169.3 453.7ZM171.3 464.9L166.8 471.2L159.1 465.5L164.2 459.6ZM166.8 471.2L162.2 477.5L154.0 471.4L159.1 465.5ZM153.1 490.1L148.6 496.5L138.7 489.1L143.8 483.2ZM210.1 406.6L205.0 412.5L202.5 410.2L208.1 404.8ZM205.0 412.5L199.9 418.4L196.8 415.6L202.5 410.2ZM230.5 383.0L224.9 388.4L224.4 387.9ZM219.3 393.9L213.7 399.3L212.3 397.8L218.3 392.9ZM191.2 421.1L185.6 426.5L181.9 422.6L188.0 417.6ZM224.0 387.4L217.5 391.8L216.8 390.7L223.6 386.8ZM216.8 390.7L209.9 394.5L208.9 392.8L216.1 389.5ZM193.2 396.2L185.8 398.8L184.5 394.9L192.2 393.0ZM222.8 385.0L215.2 387.0L214.9 385.7L222.7 384.3ZM207.1 387.0L199.2 388.3L198.9 385.7L206.8 385.0ZM214.7 384.3L206.8 385.0L206.7 383.0L214.6 383.0ZM206.8 385.0L198.9 385.7L198.8 383.0L206.7 383.0ZM198.9 385.7L191.0 386.4L190.8 383.0L198.8 383.0ZM191.0 386.4L183.1 387.0L182.9 383.0L190.8 383.0ZM214.6 383.0L206.7 383.0L206.8 381.0L214.7 381.7ZM167.0 383.0L159.1 383.0L159.4 377.0L167.3 377.6ZM206.8 381.0L198.9 380.3L199.2 377.7L207.1 379.0ZM199.2 377.7L191.4 376.3L192.2 373.0L199.8 375.0ZM168.0 372.3L160.2 371.0L161.5 365.1L169.2 367.1ZM144.6 368.3L136.7 367.0L138.5 359.1L146.2 361.1ZM222.8 381.0L215.2 379.0L215.6 377.7L223.0 380.4ZM176.9 369.1L169.2 367.1L170.9 361.9L178.3 364.6ZM230.5 383.0L223.0 380.4L223.3 379.7ZM208.9 373.2L201.7 370.0L203.0 367.6L209.9 371.5ZM224.0 378.6L217.5 374.2L218.3 373.1L224.4 378.1ZM204.5 365.3L198.0 360.9L200.1 358.3L206.2 363.2ZM219.3 372.1L213.7 366.7L215.2 365.3L220.3 371.2ZM191.2 344.9L185.6 339.5L189.7 335.8L194.8 341.7ZM225.4 377.1L220.3 371.2L221.4 370.4L225.9 376.7ZM199.9 347.6L194.8 341.7L198.6 338.9L203.2 345.2ZM207.7 351.5L203.2 345.2L206.7 343.0L210.7 349.7ZM210.7 349.7L206.7 343.0L210.4 341.2L213.7 348.1ZM213.7 348.1L210.4 341.2L214.2 339.6L216.9 346.8ZM230.5 383.0L227.8 375.8L228.4 375.6ZM216.9 346.8L214.2 339.6L218.2 338.4L220.2 345.8ZM206.1 317.9L203.4 310.7L210.0 308.7L212.0 316.1ZM222.3 353.3L220.2 345.8L223.6 345.1L225.0 352.7ZM218.2 338.4L216.1 331.0L220.9 330.0L222.2 337.5ZM227.7 352.3L227.0 344.7L230.5 344.5L230.5 352.2ZM227.0 344.7L226.4 337.0L230.5 336.8L230.5 344.5ZM225.7 329.3L225.0 321.7L230.5 321.4L230.5 329.1Z"/>
<path fill="#b8e0ed" stroke="#b8e0ed" stroke-width="0.4" d="M230.5 267.6L230.5 259.9L241.6 260.4L240.9 268.0ZM230.5 252.2L230.5 244.5L242.9 245.0L242.3 252.7ZM235.3 329.3L236.0 321.7L241.5 322.4L240.1 330.0ZM240.1 330.0L241.5 322.4L246.9 323.5L244.9 331.0ZM241.5 322.4L242.9 314.8L249.0 316.1L246.9 323.5ZM245.7 299.6L247.0 292.1L255.1 293.8L253.1 301.2ZM247.0 292.1L248.4 284.5L257.2 286.4L255.1 293.8ZM248.4 284.5L249.8 276.9L259.2 278.9L257.2 286.4ZM249.8 276.9L251.2 269.3L261.3 271.5L259.2 278.9ZM235.9 368.5L238.6 361.3L240.6 362.1L237.2 369.1ZM263.1 296.2L265.8 289.0L274.1 292.3L270.7 299.3ZM234.5 376.3L238.4 369.7L239.6 370.4L235.1 376.7ZM254.3 343.0L258.3 336.4L262.4 338.9L257.8 345.2ZM235.1 376.7L239.6 370.4L240.7 371.2L235.6 377.1ZM239.6 370.4L244.2 364.1L245.8 365.3L240.7 371.2ZM262.4 338.9L266.9 332.6L271.3 335.8L266.2 341.7ZM266.9 332.6L271.5 326.3L276.4 330.0L271.3 335.8ZM276.0 320.0L280.6 313.7L286.6 318.2L281.5 324.1ZM266.2 341.7L271.3 335.8L275.4 339.5L269.8 344.9ZM301.9 300.5L307.0 294.6L314.6 301.4L309.0 306.8ZM230.5 383.0L236.1 377.6L236.6 378.1ZM275.4 339.5L281.0 334.0L285.2 338.5L279.1 343.4ZM314.6 301.4L320.3 295.9L327.7 303.9L321.7 308.8ZM230.5 383.0L236.6 378.1L237.0 378.6ZM248.7 368.2L254.8 363.2L256.5 365.3L250.0 369.8ZM230.5 383.0L237.0 378.6L237.4 379.2ZM256.5 365.3L263.0 360.9L264.9 363.8L258.0 367.6ZM276.0 352.1L282.5 347.7L285.5 352.2L278.6 356.1ZM251.1 371.5L258.0 367.6L259.3 370.0L252.1 373.2ZM341.1 373.6L349.0 372.9L349.5 383.0L341.6 383.0ZM286.0 383.0L294.0 383.0L293.7 388.4L285.8 387.7ZM276.5 394.9L284.1 396.9L282.7 401.4L275.2 398.8ZM291.8 398.9L299.5 400.9L297.6 406.7L290.1 404.1ZM282.7 401.4L290.1 404.1L288.0 409.0L280.8 405.8ZM290.1 404.1L297.6 406.7L295.2 412.3L288.0 409.0ZM237.4 386.8L244.2 390.7L243.5 391.8L237.0 387.4ZM237.0 387.4L243.5 391.8L242.7 392.9L236.6 387.9ZM267.0 412.7L273.0 417.6L269.8 421.1L264.2 415.6ZM269.8 421.1L275.4 426.5L271.3 430.2L266.2 424.3ZM266.2 424.3L271.3 430.2L266.9 433.4L262.4 427.1ZM230.5 383.0L235.1 389.3L234.5 389.7ZM270.2 449.6L274.1 456.3L267.4 459.7L264.0 452.7ZM274.1 456.3L278.1 463.0L270.7 466.7L267.4 459.7ZM230.5 383.0L233.9 390.0L233.2 390.2ZM233.9 390.0L237.2 396.9L235.9 397.5L233.2 390.2ZM247.3 417.9L250.6 424.8L246.8 426.4L244.1 419.2ZM254.0 431.8L257.3 438.8L252.2 440.8L249.5 433.6ZM230.5 383.0L233.2 390.2L232.6 390.4ZM230.5 383.0L232.6 390.4L231.9 390.6ZM227.7 413.7L227.0 421.3L223.6 420.9L225.0 413.3ZM207.9 464.8L205.9 472.2L197.9 469.8L200.7 462.5ZM203.8 479.6L201.8 487.1L192.5 484.2L195.2 477.0ZM223.8 396.9L220.4 403.9L218.6 403.0L222.6 396.3ZM230.5 383.0L226.5 389.7L225.9 389.3ZM222.6 396.3L218.6 403.0L216.8 401.9L221.4 395.6ZM206.7 423.0L202.7 429.6L198.6 427.1L203.2 420.8ZM190.8 449.6L186.9 456.3L180.4 452.3L185.0 446.0ZM171.0 483.0L167.0 489.6L157.7 483.8L162.2 477.5ZM163.1 496.3L159.1 502.9L148.6 496.5L153.1 490.1ZM198.6 427.1L194.1 433.4L189.7 430.2L194.8 424.3ZM185.0 446.0L180.4 452.3L174.4 447.8L179.5 441.9ZM157.7 483.8L153.1 490.1L143.8 483.2L148.9 477.3ZM224.9 388.4L219.3 393.9L218.3 392.9L224.4 387.9ZM196.8 415.6L191.2 421.1L188.0 417.6L194.0 412.7ZM218.3 392.9L212.3 397.8L211.0 396.2L217.5 391.8ZM230.5 383.0L223.6 386.8L223.3 386.3ZM223.3 386.3L216.1 389.5L215.6 388.3L223.0 385.6ZM187.4 402.5L180.2 405.8L178.3 401.4L185.8 398.8ZM230.5 383.0L223.0 385.6L222.8 385.0ZM230.5 383.0L222.8 385.0L222.7 384.3ZM222.7 384.3L214.9 385.7L214.7 384.3L222.6 383.7ZM199.2 388.3L191.4 389.7L191.0 386.4L198.9 385.7ZM198.8 383.0L190.8 383.0L191.0 379.6L198.9 380.3ZM182.9 383.0L175.0 383.0L175.2 378.3L183.1 379.0ZM159.1 383.0L151.2 383.0L151.5 376.3L159.4 377.0ZM183.1 379.0L175.2 378.3L175.8 373.6L183.6 375.0ZM175.2 378.3L167.3 377.6L168.0 372.3L175.8 373.6ZM143.6 375.6L135.7 375.0L136.7 367.0L144.6 368.3ZM175.8 373.6L168.0 372.3L169.2 367.1L176.9 369.1ZM184.5 371.1L176.9 369.1L178.3 364.6L185.8 367.2ZM185.8 367.2L178.3 364.6L180.2 360.2L187.4 363.5ZM170.9 361.9L163.4 359.3L165.8 353.7L173.0 357.0ZM148.5 354.1L141.0 351.4L144.2 344.0L151.4 347.2ZM223.3 379.7L216.1 376.5L216.8 375.3L223.6 379.2ZM230.5 383.0L223.6 379.2L224.0 378.6ZM148.1 336.8L141.2 333.0L146.0 325.6L152.5 330.0ZM126.5 312.4L120.0 308.0L127.2 298.9L133.3 303.9ZM206.2 363.2L200.1 358.3L202.5 355.8L208.1 361.2ZM139.3 308.8L133.3 303.9L140.7 295.9L146.4 301.4ZM230.5 383.0L224.9 377.6L225.4 377.1ZM194.1 332.6L189.5 326.3L194.8 323.0L198.8 329.7ZM230.5 383.0L226.5 376.3L227.1 376.0ZM214.2 339.6L211.5 332.4L216.1 331.0L218.2 338.4ZM211.5 332.4L208.8 325.2L214.1 323.5L216.1 331.0ZM208.8 325.2L206.1 317.9L212.0 316.1L214.1 323.5ZM203.4 310.7L200.7 303.5L207.9 301.2L210.0 308.7ZM200.7 303.5L197.9 296.2L205.9 293.8L207.9 301.2ZM214.1 323.5L212.0 316.1L218.1 314.8L219.5 322.4ZM212.0 316.1L210.0 308.7L216.7 307.2L218.1 314.8ZM207.9 301.2L205.9 293.8L214.0 292.1L215.3 299.6ZM229.1 375.4L227.7 367.8L229.1 367.7L229.8 375.3ZM222.2 337.5L220.9 330.0L225.7 329.3L226.4 337.0ZM216.7 307.2L215.3 299.6L222.9 298.7L223.6 306.3ZM230.5 383.0L229.8 375.3L230.5 375.3ZM223.6 306.3L222.9 298.7L230.5 298.4L230.5 306.1Z"/>
<path fill="#c6e6f0" stroke="#c6e6f0" stroke-width="0.4" d="M231.9 367.7L232.6 360.0L234.6 360.3L233.3 367.8ZM240.9 268.0L241.6 260.4L252.5 261.8L251.2 269.3ZM241.6 260.4L242.3 252.7L253.9 254.2L252.5 261.8ZM233.3 367.8L234.6 360.3L236.7 360.7L234.6 368.1ZM251.2 269.3L252.5 261.8L263.4 264.1L261.3 271.5ZM230.5 383.0L233.2 375.8L233.9 376.0ZM233.9 376.0L237.2 369.1L238.4 369.7L234.5 376.3ZM267.4 306.3L270.7 299.3L278.1 303.0L274.1 309.7ZM270.7 299.3L274.1 292.3L282.1 296.4L278.1 303.0ZM280.8 278.4L284.1 271.4L294.0 276.4L290.0 283.0ZM284.1 271.4L287.5 264.4L297.9 269.7L294.0 276.4ZM287.5 264.4L290.8 257.5L301.9 263.1L297.9 269.7ZM230.5 383.0L235.1 376.7L235.6 377.1ZM257.8 345.2L262.4 338.9L266.2 341.7L261.1 347.6ZM271.5 326.3L276.0 320.0L281.5 324.1L276.4 330.0ZM235.6 377.1L240.7 371.2L241.7 372.1L236.1 377.6ZM307.0 294.6L312.1 288.7L320.3 295.9L314.6 301.4ZM312.1 288.7L317.2 282.8L325.9 290.5L320.3 295.9ZM303.4 312.3L309.0 306.8L315.6 313.8L309.5 318.7ZM309.0 306.8L314.6 301.4L321.7 308.8L315.6 313.8ZM254.8 363.2L260.9 358.3L263.0 360.9L256.5 365.3ZM250.0 369.8L256.5 365.3L258.0 367.6L251.1 371.5ZM293.7 377.6L301.6 377.0L301.9 383.0L294.0 383.0ZM301.6 377.0L309.5 376.3L309.8 383.0L301.9 383.0ZM333.2 374.3L341.1 373.6L341.6 383.0L333.6 383.0ZM349.0 372.9L357.0 372.3L357.4 383.0L349.5 383.0ZM294.0 383.0L301.9 383.0L301.6 389.0L293.7 388.4ZM230.5 383.0L238.2 385.0L238.0 385.6ZM275.2 398.8L282.7 401.4L280.8 405.8L273.6 402.5ZM273.0 417.6L279.1 422.6L275.4 426.5L269.8 421.1ZM297.4 437.4L303.4 442.4L297.8 448.3L292.2 442.8ZM303.4 442.4L309.5 447.3L303.4 453.7L297.8 448.3ZM315.6 452.2L321.7 457.2L314.6 464.6L309.0 459.2ZM333.8 467.1L339.9 472.0L331.5 480.9L325.9 475.5ZM275.4 426.5L281.0 432.0L276.4 436.0L271.3 430.2ZM281.0 432.0L286.6 437.4L281.5 441.9L276.4 436.0ZM230.5 383.0L235.6 388.9L235.1 389.3ZM301.9 465.5L307.0 471.4L298.8 477.5L294.2 471.2ZM253.3 414.5L257.8 420.8L254.3 423.0L250.3 416.3ZM289.7 464.9L294.2 471.2L286.0 476.3L282.1 469.6ZM298.8 477.5L303.3 483.8L294.0 489.6L290.0 483.0ZM230.5 383.0L234.5 389.7L233.9 390.0ZM250.3 416.3L254.3 423.0L250.6 424.8L247.3 417.9ZM266.2 443.0L270.2 449.6L264.0 452.7L260.7 445.8ZM233.2 390.2L235.9 397.5L234.6 397.9L232.6 390.4ZM232.6 390.4L234.6 397.9L233.3 398.2L231.9 390.6ZM244.3 458.8L245.7 466.4L238.1 467.3L237.4 459.7ZM234.0 421.3L234.6 429.0L230.5 429.2L230.5 421.5ZM237.4 459.7L238.1 467.3L230.5 467.6L230.5 459.9ZM230.5 421.5L230.5 429.2L226.4 429.0L227.0 421.3ZM228.4 406.0L227.7 413.7L225.0 413.3L226.4 405.7ZM230.5 383.0L229.1 390.6L228.4 390.4ZM230.5 383.0L228.4 390.4L227.8 390.2ZM220.2 420.2L218.2 427.6L214.2 426.4L216.9 419.2ZM225.1 397.5L222.4 404.7L220.4 403.9L223.8 396.9ZM222.4 404.7L219.6 411.9L217.1 410.9L220.4 403.9ZM219.6 411.9L216.9 419.2L213.7 417.9L217.1 410.9ZM230.5 383.0L227.1 390.0L226.5 389.7ZM220.4 403.9L217.1 410.9L214.6 409.7L218.6 403.0ZM226.5 389.7L222.6 396.3L221.4 395.6L225.9 389.3ZM218.6 403.0L214.6 409.7L212.3 408.2L216.8 401.9ZM221.4 395.6L216.8 401.9L215.2 400.7L220.3 394.8ZM162.2 477.5L157.7 483.8L148.9 477.3L154.0 471.4ZM213.7 399.3L208.1 404.8L206.2 402.8L212.3 397.8ZM212.3 397.8L206.2 402.8L204.5 400.7L211.0 396.2ZM211.0 396.2L204.5 400.7L203.0 398.4L209.9 394.5ZM223.6 386.8L216.8 390.7L216.1 389.5L223.3 386.3ZM203.0 398.4L196.1 402.2L194.5 399.3L201.7 396.0ZM196.1 402.2L189.3 406.1L187.4 402.5L194.5 399.3ZM200.7 393.5L193.2 396.2L192.2 393.0L199.8 391.0ZM222.6 383.7L214.7 384.3L214.6 383.0L222.6 383.0ZM127.8 391.7L119.9 392.4L119.4 383.0L127.4 383.0ZM175.0 383.0L167.0 383.0L167.3 377.6L175.2 378.3ZM151.2 383.0L143.2 383.0L143.6 375.6L151.5 376.3ZM143.2 383.0L135.3 383.0L135.7 375.0L143.6 375.6ZM135.3 383.0L127.4 383.0L127.8 374.3L135.7 375.0ZM127.4 383.0L119.4 383.0L119.9 373.6L127.8 374.3ZM111.5 383.0L103.6 383.0L104.0 372.3L112.0 372.9ZM95.6 383.0L87.7 383.0L88.2 370.9L96.1 371.6ZM167.3 377.6L159.4 377.0L160.2 371.0L168.0 372.3ZM169.2 367.1L161.5 365.1L163.4 359.3L170.9 361.9ZM146.2 361.1L138.5 359.1L141.0 351.4L148.5 354.1ZM178.3 364.6L170.9 361.9L173.0 357.0L180.2 360.2ZM157.6 323.6L151.5 318.7L157.6 312.3L163.2 317.7ZM151.5 318.7L145.4 313.8L152.0 306.8L157.6 312.3ZM133.3 303.9L127.2 298.9L135.1 290.5L140.7 295.9ZM127.2 298.9L121.1 294.0L129.5 285.1L135.1 290.5ZM196.8 350.4L191.2 344.9L194.8 341.7L199.9 347.6ZM168.8 323.2L163.2 317.7L169.3 312.3L174.4 318.2ZM203.2 345.2L198.6 338.9L202.7 336.4L206.7 343.0ZM198.6 338.9L194.1 332.6L198.8 329.7L202.7 336.4ZM189.5 326.3L185.0 320.0L190.8 316.4L194.8 323.0ZM171.3 301.1L166.8 294.8L175.0 289.7L178.9 296.4ZM162.2 288.5L157.7 282.2L167.0 276.4L171.0 283.0ZM210.0 308.7L207.9 301.2L215.3 299.6L216.7 307.2ZM220.9 330.0L219.5 322.4L225.0 321.7L225.7 329.3ZM218.1 314.8L216.7 307.2L223.6 306.3L224.3 314.0ZM215.3 299.6L214.0 292.1L222.2 291.0L222.9 298.7ZM226.4 337.0L225.7 329.3L230.5 329.1L230.5 336.8ZM225.0 321.7L224.3 314.0L230.5 313.8L230.5 321.4ZM224.3 314.0L223.6 306.3L230.5 306.1L230.5 313.8ZM222.9 298.7L222.2 291.0L230.5 290.7L230.5 298.4Z"/>
<path fill="#d3ecf4" stroke="#d3ecf4" stroke-width="0.4" d="M230.5 313.8L230.5 306.1L237.4 306.3L236.7 314.0ZM230.5 259.9L230.5 252.2L242.3 252.7L241.6 260.4ZM238.1 298.7L238.8 291.0L247.0 292.1L245.7 299.6ZM242.3 252.7L242.9 245.0L255.3 246.6L253.9 254.2ZM244.3 307.2L245.7 299.6L253.1 301.2L251.0 308.7ZM252.5 261.8L253.9 254.2L265.4 256.7L263.4 264.1ZM277.4 285.4L280.8 278.4L290.0 283.0L286.0 289.7ZM317.2 282.8L322.3 276.9L331.5 285.1L325.9 290.5ZM320.3 295.9L325.9 290.5L333.8 298.9L327.7 303.9ZM230.5 383.0L237.4 379.2L237.7 379.7ZM238.0 380.4L245.4 377.7L245.8 379.0L238.2 381.0ZM246.1 380.3L253.9 379.0L254.2 381.0L246.3 381.7ZM230.5 383.0L238.4 383.0L238.4 383.7ZM278.1 383.0L286.0 383.0L285.8 387.7L277.9 387.0ZM309.8 383.0L317.8 383.0L317.4 390.4L309.5 389.7ZM317.8 383.0L325.7 383.0L325.3 391.0L317.4 390.4ZM333.6 383.0L341.6 383.0L341.1 392.4L333.2 391.7ZM349.5 383.0L357.4 383.0L357.0 393.7L349.0 393.1ZM284.1 396.9L291.8 398.9L290.1 404.1L282.7 401.4ZM345.4 412.9L353.1 414.9L349.8 425.1L342.3 422.5ZM353.1 414.9L360.8 416.9L357.2 427.7L349.8 425.1ZM352.7 438.3L359.9 441.5L354.2 452.2L347.3 448.4ZM263.0 405.1L269.5 409.5L267.0 412.7L260.9 407.7ZM308.5 436.0L315.0 440.4L309.5 447.3L303.4 442.4ZM321.5 444.8L328.0 449.2L321.7 457.2L315.6 452.2ZM334.5 453.6L341.0 458.0L333.8 467.1L327.7 462.1ZM341.0 458.0L347.5 462.4L339.9 472.0L333.8 467.1ZM309.5 447.3L315.6 452.2L309.0 459.2L303.4 453.7ZM321.7 457.2L327.7 462.1L320.3 470.1L314.6 464.6ZM264.2 415.6L269.8 421.1L266.2 424.3L261.1 418.4ZM292.2 442.8L297.8 448.3L291.7 453.7L286.6 447.8ZM296.8 459.6L301.9 465.5L294.2 471.2L289.7 464.9ZM317.2 483.2L322.3 489.1L312.4 496.5L307.9 490.1ZM303.3 483.8L307.9 490.1L297.9 496.3L294.0 489.6ZM307.9 490.1L312.4 496.5L301.9 502.9L297.9 496.3ZM234.5 389.7L238.4 396.3L237.2 396.9L233.9 390.0ZM267.4 459.7L270.7 466.7L263.1 469.8L260.3 462.5ZM270.7 466.7L274.1 473.7L265.8 477.0L263.1 469.8ZM242.9 451.2L244.3 458.8L237.4 459.7L236.7 452.0ZM230.5 398.4L230.5 406.1L228.4 406.0L229.1 398.3ZM230.5 383.0L229.8 390.7L229.1 390.6ZM226.4 429.0L225.7 436.7L220.9 436.0L222.2 428.5ZM225.0 444.3L224.3 452.0L218.1 451.2L219.5 443.6ZM222.2 428.5L220.9 436.0L216.1 435.0L218.2 427.6ZM193.6 459.7L190.3 466.7L182.9 463.0L186.9 456.3ZM190.3 466.7L186.9 473.7L178.9 469.6L182.9 463.0ZM186.9 473.7L183.6 480.6L175.0 476.3L178.9 469.6ZM180.2 487.6L176.9 494.6L167.0 489.6L171.0 483.0ZM176.9 494.6L173.5 501.6L163.1 496.3L167.0 489.6ZM135.7 391.0L127.8 391.7L127.4 383.0L135.3 383.0ZM103.6 383.0L95.6 383.0L96.1 371.6L104.0 372.3ZM183.6 375.0L175.8 373.6L176.9 369.1L184.5 371.1ZM189.3 359.9L182.4 356.1L185.0 352.1L191.5 356.5ZM161.8 344.5L154.9 340.7L159.0 334.5L165.5 338.9ZM141.2 333.0L134.3 329.1L139.5 321.2L146.0 325.6ZM134.3 329.1L127.4 325.3L133.0 316.8L139.5 321.2ZM113.7 317.6L106.8 313.8L113.5 303.6L120.0 308.0ZM152.5 330.0L146.0 325.6L151.5 318.7L157.6 323.6ZM146.0 325.6L139.5 321.2L145.4 313.8L151.5 318.7ZM139.5 321.2L133.0 316.8L139.3 308.8L145.4 313.8ZM133.0 316.8L126.5 312.4L133.3 303.9L139.3 308.8ZM120.0 308.0L113.5 303.6L121.1 294.0L127.2 298.9ZM219.5 322.4L218.1 314.8L224.3 314.0L225.0 321.7Z"/>
<path fill="#e0f3f8" stroke="#e0f3f8" stroke-width="0.4" d="M230.5 290.7L230.5 283.0L239.5 283.4L238.8 291.0ZM230.5 283.0L230.5 275.3L240.2 275.7L239.5 283.4ZM236.7 314.0L237.4 306.3L244.3 307.2L242.9 314.8ZM240.2 275.7L240.9 268.0L251.2 269.3L249.8 276.9ZM325.9 290.5L331.5 285.1L339.9 294.0L333.8 298.9ZM237.4 379.2L244.2 375.3L244.9 376.5L237.7 379.7ZM237.7 379.7L244.9 376.5L245.4 377.7L238.0 380.4ZM244.9 376.5L252.1 373.2L252.9 375.1L245.4 377.7ZM230.5 383.0L238.0 380.4L238.2 381.0ZM238.2 381.0L245.8 379.0L246.1 380.3L238.3 381.7ZM276.5 371.1L284.1 369.1L285.2 373.6L277.4 375.0ZM284.1 369.1L291.8 367.1L293.0 372.3L285.2 373.6ZM307.1 363.1L314.8 361.1L316.4 368.3L308.6 369.6ZM314.8 361.1L322.5 359.1L324.3 367.0L316.4 368.3ZM230.5 383.0L238.3 381.7L238.4 382.3ZM238.3 381.7L246.1 380.3L246.3 381.7L238.4 382.3ZM230.5 383.0L238.4 382.3L238.4 383.0ZM238.4 382.3L246.3 381.7L246.4 383.0L238.4 383.0ZM246.3 381.7L254.2 381.0L254.3 383.0L246.4 383.0ZM342.3 422.5L349.8 425.1L345.5 435.0L338.4 431.8ZM357.2 427.7L364.7 430.4L359.9 441.5L352.7 438.3ZM316.8 422.0L324.0 425.3L319.8 433.0L312.9 429.2ZM324.0 425.3L331.2 428.5L326.7 436.9L319.8 433.0ZM338.4 431.8L345.5 435.0L340.4 444.6L333.6 440.7ZM269.5 409.5L276.0 413.9L273.0 417.6L267.0 412.7ZM315.0 440.4L321.5 444.8L315.6 452.2L309.5 447.3ZM328.0 449.2L334.5 453.6L327.7 462.1L321.7 457.2ZM279.1 422.6L285.2 427.5L281.0 432.0L275.4 426.5ZM285.2 427.5L291.3 432.5L286.6 437.4L281.0 432.0ZM291.3 432.5L297.4 437.4L292.2 442.8L286.6 437.4ZM327.7 462.1L333.8 467.1L325.9 475.5L320.3 470.1ZM286.6 437.4L292.2 442.8L286.6 447.8L281.5 441.9ZM307.0 471.4L312.1 477.3L303.3 483.8L298.8 477.5ZM312.1 477.3L317.2 483.2L307.9 490.1L303.3 483.8ZM294.2 471.2L298.8 477.5L290.0 483.0L286.0 476.3ZM260.7 445.8L264.0 452.7L257.6 455.3L254.9 448.1ZM264.0 452.7L267.4 459.7L260.3 462.5L257.6 455.3ZM230.5 444.6L230.5 452.2L224.3 452.0L225.0 444.3ZM225.7 436.7L225.0 444.3L219.5 443.6L220.9 436.0ZM220.9 436.0L219.5 443.6L214.1 442.5L216.1 435.0ZM219.5 443.6L218.1 451.2L212.0 449.9L214.1 442.5ZM218.1 451.2L216.7 458.8L210.0 457.3L212.0 449.9ZM216.7 458.8L215.3 466.4L207.9 464.8L210.0 457.3ZM215.3 466.4L214.0 473.9L205.9 472.2L207.9 464.8ZM178.3 401.4L170.9 404.1L169.2 398.9L176.9 396.9ZM184.5 394.9L176.9 396.9L175.8 392.4L183.6 391.0ZM176.9 396.9L169.2 398.9L168.0 393.7L175.8 392.4ZM169.2 398.9L161.5 400.9L160.2 395.0L168.0 393.7ZM183.6 391.0L175.8 392.4L175.2 387.7L183.1 387.0ZM167.3 388.4L159.4 389.0L159.1 383.0L167.0 383.0ZM119.4 383.0L111.5 383.0L112.0 372.9L119.9 373.6ZM121.1 364.3L113.3 363.0L115.6 353.1L123.2 355.1ZM105.5 361.6L97.7 360.3L100.2 349.1L107.9 351.1ZM154.9 340.7L148.1 336.8L152.5 330.0L159.0 334.5ZM127.4 325.3L120.6 321.4L126.5 312.4L133.0 316.8ZM120.6 321.4L113.7 317.6L120.0 308.0L126.5 312.4ZM145.4 313.8L139.3 308.8L146.4 301.4L152.0 306.8ZM175.9 307.4L171.3 301.1L178.9 296.4L182.9 303.0ZM166.8 294.8L162.2 288.5L171.0 283.0L175.0 289.7ZM153.1 275.9L148.6 269.5L159.1 263.1L163.1 269.7Z"/>
<path fill="#e4f1eb" stroke="#e4f1eb" stroke-width="0.4" d="M230.5 306.1L230.5 298.4L238.1 298.7L237.4 306.3ZM230.5 298.4L230.5 290.7L238.8 291.0L238.1 298.7ZM230.5 275.3L230.5 267.6L240.9 268.0L240.2 275.7ZM237.4 306.3L238.1 298.7L245.7 299.6L244.3 307.2ZM244.2 375.3L251.1 371.5L252.1 373.2L244.9 376.5ZM230.5 383.0L237.7 379.7L238.0 380.4ZM245.4 377.7L252.9 375.1L253.5 377.0L245.8 379.0ZM230.5 383.0L238.2 381.0L238.3 381.7ZM245.8 379.0L253.5 377.0L253.9 379.0L246.1 380.3ZM285.2 373.6L293.0 372.3L293.7 377.6L285.8 378.3ZM285.8 378.3L293.7 377.6L294.0 383.0L286.0 383.0ZM325.7 383.0L333.6 383.0L333.2 391.7L325.3 391.0ZM360.8 416.9L368.4 418.8L364.7 430.4L357.2 427.7ZM349.8 425.1L357.2 427.7L352.7 438.3L345.5 435.0ZM331.2 428.5L338.4 431.8L333.6 440.7L326.7 436.9ZM345.5 435.0L352.7 438.3L347.3 448.4L340.4 444.6ZM239.6 395.6L244.2 401.9L242.4 403.0L238.4 396.3ZM238.6 404.7L241.4 411.9L238.7 412.7L236.7 405.3ZM236.0 413.3L237.4 420.9L234.0 421.3L233.3 413.7ZM247.0 473.9L248.4 481.5L239.5 482.6L238.8 475.0ZM249.8 489.1L251.2 496.7L240.9 498.0L240.2 490.3ZM253.9 511.8L255.3 519.4L242.9 521.0L242.3 513.3ZM230.5 429.2L230.5 436.9L225.7 436.7L226.4 429.0ZM230.5 436.9L230.5 444.6L225.0 444.3L225.7 436.7ZM183.6 480.6L180.2 487.6L171.0 483.0L175.0 476.3ZM173.5 501.6L170.2 508.5L159.1 502.9L163.1 496.3ZM185.8 398.8L178.3 401.4L176.9 396.9L184.5 394.9ZM175.2 387.7L167.3 388.4L167.0 383.0L175.0 383.0ZM136.7 367.0L128.9 365.6L130.9 357.1L138.5 359.1ZM128.9 365.6L121.1 364.3L123.2 355.1L130.9 357.1ZM113.3 363.0L105.5 361.6L107.9 351.1L115.6 353.1ZM97.7 360.3L89.9 358.9L92.6 347.2L100.2 349.1ZM157.7 282.2L153.1 275.9L163.1 269.7L167.0 276.4Z"/>
<path fill="#e8eede" stroke="#e8eede" stroke-width="0.4" d="M259.3 370.0L266.5 366.7L267.8 369.8L260.3 372.5ZM341.6 383.0L349.5 383.0L349.0 393.1L341.1 392.4ZM330.1 408.9L337.8 410.9L334.9 419.8L327.4 417.2ZM248.4 481.5L249.8 489.1L240.2 490.3L239.5 482.6ZM251.2 496.7L252.5 504.2L241.6 505.6L240.9 498.0ZM158.6 415.5L151.4 418.8L148.5 411.9L156.0 409.3ZM170.9 404.1L163.4 406.7L161.5 400.9L169.2 398.9ZM161.5 400.9L153.9 402.9L152.4 396.4L160.2 395.0ZM153.9 402.9L146.2 404.9L144.6 397.7L152.4 396.4ZM146.2 404.9L138.5 406.9L136.7 399.0L144.6 397.7ZM175.8 392.4L168.0 393.7L167.3 388.4L175.2 387.7ZM168.0 393.7L160.2 395.0L159.4 389.0L167.3 388.4ZM183.1 387.0L175.2 387.7L175.0 383.0L182.9 383.0Z"/>
<path fill="#ebecd1" stroke="#ebecd1" stroke-width="0.4" d="M274.1 292.3L277.4 285.4L286.0 289.7L282.1 296.4ZM267.8 369.8L275.2 367.2L276.5 371.1L268.8 373.0ZM268.8 373.0L276.5 371.1L277.4 375.0L269.6 376.3ZM253.9 379.0L261.8 377.7L262.1 380.3L254.2 381.0ZM277.4 375.0L285.2 373.6L285.8 378.3L277.9 379.0ZM254.2 381.0L262.1 380.3L262.2 383.0L254.3 383.0ZM262.1 380.3L270.0 379.6L270.2 383.0L262.2 383.0ZM277.9 379.0L285.8 378.3L286.0 383.0L278.1 383.0ZM317.4 375.6L325.3 375.0L325.7 383.0L317.8 383.0ZM246.4 383.0L254.3 383.0L254.2 385.0L246.3 384.3ZM322.5 406.9L330.1 408.9L327.4 417.2L320.0 414.6ZM337.8 410.9L345.4 412.9L342.3 422.5L334.9 419.8ZM240.7 394.8L245.8 400.7L244.2 401.9L239.6 395.6ZM238.4 396.3L242.4 403.0L240.6 403.9L237.2 396.9ZM237.2 396.9L240.6 403.9L238.6 404.7L235.9 397.5ZM234.6 397.9L236.7 405.3L234.6 405.7L233.3 398.2ZM238.7 412.7L240.8 420.2L237.4 420.9L236.0 413.3ZM233.3 398.2L234.6 405.7L232.6 406.0L231.9 398.3ZM234.6 405.7L236.0 413.3L233.3 413.7L232.6 406.0ZM252.5 504.2L253.9 511.8L242.3 513.3L241.6 505.6ZM226.4 405.7L225.0 413.3L222.3 412.7L224.3 405.3ZM224.3 405.3L222.3 412.7L219.6 411.9L222.4 404.7ZM212.0 449.9L210.0 457.3L203.4 455.3L206.1 448.1ZM208.8 440.8L206.1 448.1L200.3 445.8L203.7 438.8ZM203.7 438.8L200.3 445.8L194.8 443.0L198.8 436.3ZM200.3 445.8L197.0 452.7L190.8 449.6L194.8 443.0ZM197.0 452.7L193.6 459.7L186.9 456.3L190.8 449.6ZM165.8 412.3L158.6 415.5L156.0 409.3L163.4 406.7ZM127.8 374.3L119.9 373.6L121.1 364.3L128.9 365.6ZM194.8 323.0L190.8 316.4L197.0 313.3L200.3 320.2Z"/>
<path fill="#efeac4" stroke="#efeac4" stroke-width="0.4" d="M238.8 291.0L239.5 283.4L248.4 284.5L247.0 292.1ZM239.5 283.4L240.2 275.7L249.8 276.9L248.4 284.5ZM252.9 375.1L260.3 372.5L261.2 375.0L253.5 377.0ZM253.5 377.0L261.2 375.0L261.8 377.7L253.9 379.0ZM308.6 369.6L316.4 368.3L317.4 375.6L309.5 376.3ZM254.2 385.0L262.1 385.7L261.8 388.3L253.9 387.0ZM238.3 384.3L246.1 385.7L245.8 387.0L238.2 385.0ZM269.6 389.7L277.4 391.0L276.5 394.9L268.8 393.0ZM238.2 385.0L245.8 387.0L245.4 388.3L238.0 385.6ZM245.8 387.0L253.5 389.0L252.9 390.9L245.4 388.3ZM253.5 389.0L261.2 391.0L260.3 393.5L252.9 390.9ZM288.0 409.0L295.2 412.3L292.3 417.6L285.5 413.8ZM295.2 412.3L302.4 415.5L299.2 421.5L292.3 417.6ZM302.4 415.5L309.6 418.8L306.1 425.3L299.2 421.5ZM250.9 406.6L256.0 412.5L253.3 414.5L248.7 408.2ZM248.7 408.2L253.3 414.5L250.3 416.3L246.4 409.7ZM246.4 409.7L250.3 416.3L247.3 417.9L243.9 410.9ZM241.4 411.9L244.1 419.2L240.8 420.2L238.7 412.7ZM236.7 405.3L238.7 412.7L236.0 413.3L234.6 405.7ZM245.7 466.4L247.0 473.9L238.8 475.0L238.1 467.3ZM230.5 483.0L230.5 490.7L220.8 490.3L221.5 482.6ZM230.5 513.8L230.5 521.5L218.1 521.0L218.7 513.3ZM218.2 427.6L216.1 435.0L211.5 433.6L214.2 426.4ZM216.1 435.0L214.1 442.5L208.8 440.8L211.5 433.6ZM214.1 442.5L212.0 449.9L206.1 448.1L208.8 440.8ZM214.2 426.4L211.5 433.6L207.0 431.8L210.4 424.8ZM211.5 433.6L208.8 440.8L203.7 438.8L207.0 431.8ZM206.1 448.1L203.4 455.3L197.0 452.7L200.3 445.8ZM203.4 455.3L200.7 462.5L193.6 459.7L197.0 452.7ZM133.3 462.1L127.2 467.1L120.0 458.0L126.5 453.6ZM127.2 467.1L121.1 472.0L113.5 462.4L120.0 458.0ZM148.1 429.2L141.2 433.0L137.0 425.3L144.2 422.0ZM127.4 440.7L120.6 444.6L115.5 435.0L122.6 431.8ZM151.4 418.8L144.2 422.0L141.0 414.6L148.5 411.9ZM148.5 411.9L141.0 414.6L138.5 406.9L146.2 404.9ZM144.6 397.7L136.7 399.0L135.7 391.0L143.6 390.4ZM159.4 389.0L151.5 389.7L151.2 383.0L159.1 383.0ZM143.6 390.4L135.7 391.0L135.3 383.0L143.2 383.0ZM135.7 375.0L127.8 374.3L128.9 365.6L136.7 367.0ZM112.0 372.9L104.0 372.3L105.5 361.6L113.3 363.0ZM96.1 371.6L88.2 370.9L89.9 358.9L97.7 360.3ZM167.0 276.4L163.1 269.7L173.5 264.4L176.9 271.4ZM163.1 269.7L159.1 263.1L170.2 257.5L173.5 264.4ZM200.3 320.2L197.0 313.3L203.4 310.7L206.1 317.9ZM197.0 313.3L193.6 306.3L200.7 303.5L203.4 310.7ZM193.6 306.3L190.3 299.3L197.9 296.2L200.7 303.5Z"/>
<path fill="#f3e7b7" stroke="#f3e7b7" stroke-width="0.4" d="M242.9 314.8L244.3 307.2L251.0 308.7L249.0 316.1ZM252.1 373.2L259.3 370.0L260.3 372.5L252.9 375.1ZM261.2 375.0L268.8 373.0L269.6 376.3L261.8 377.7ZM261.8 377.7L269.6 376.3L270.0 379.6L262.1 380.3ZM316.4 368.3L324.3 367.0L325.3 375.0L317.4 375.6ZM309.5 376.3L317.4 375.6L317.8 383.0L309.8 383.0ZM254.3 383.0L262.2 383.0L262.1 385.7L254.2 385.0ZM270.2 383.0L278.1 383.0L277.9 387.0L270.0 386.4ZM238.4 383.7L246.3 384.3L246.1 385.7L238.3 384.3ZM246.3 384.3L254.2 385.0L253.9 387.0L246.1 385.7ZM262.1 385.7L270.0 386.4L269.6 389.7L261.8 388.3ZM270.0 386.4L277.9 387.0L277.4 391.0L269.6 389.7ZM246.1 385.7L253.9 387.0L253.5 389.0L245.8 387.0ZM253.9 387.0L261.8 388.3L261.2 391.0L253.5 389.0ZM268.8 393.0L276.5 394.9L275.2 398.8L267.8 396.2ZM309.6 418.8L316.8 422.0L312.9 429.2L306.1 425.3ZM245.8 400.7L250.9 406.6L248.7 408.2L244.2 401.9ZM281.5 441.9L286.6 447.8L280.6 452.3L276.0 446.0ZM291.7 453.7L296.8 459.6L289.7 464.9L285.1 458.6ZM244.2 401.9L248.7 408.2L246.4 409.7L242.4 403.0ZM271.5 439.7L276.0 446.0L270.2 449.6L266.2 443.0ZM276.0 446.0L280.6 452.3L274.1 456.3L270.2 449.6ZM285.1 458.6L289.7 464.9L282.1 469.6L278.1 463.0ZM243.9 410.9L247.3 417.9L244.1 419.2L241.4 411.9ZM235.9 397.5L238.6 404.7L236.7 405.3L234.6 397.9ZM242.3 513.3L242.9 521.0L230.5 521.5L230.5 513.8ZM230.5 467.6L230.5 475.3L222.2 475.0L222.9 467.3ZM230.5 490.7L230.5 498.4L220.1 498.0L220.8 490.3ZM230.5 498.4L230.5 506.1L219.4 505.6L220.1 498.0ZM225.0 413.3L223.6 420.9L220.2 420.2L222.3 412.7ZM222.3 412.7L220.2 420.2L216.9 419.2L219.6 411.9ZM210.0 457.3L207.9 464.8L200.7 462.5L203.4 455.3ZM159.0 431.5L152.5 436.0L148.1 429.2L154.9 425.3ZM133.0 449.2L126.5 453.6L120.6 444.6L127.4 440.7ZM154.9 425.3L148.1 429.2L144.2 422.0L151.4 418.8ZM134.3 436.9L127.4 440.7L122.6 431.8L129.8 428.5ZM113.7 448.4L106.8 452.3L101.1 441.5L108.3 438.3ZM160.2 395.0L152.4 396.4L151.5 389.7L159.4 389.0ZM152.4 396.4L144.6 397.7L143.6 390.4L151.5 389.7ZM151.5 389.7L143.6 390.4L143.2 383.0L151.2 383.0ZM119.9 373.6L112.0 372.9L113.3 363.0L121.1 364.3ZM104.0 372.3L96.1 371.6L97.7 360.3L105.5 361.6ZM214.9 380.3L207.1 379.0L207.5 377.0L215.2 379.0ZM207.5 377.0L199.8 375.0L200.7 372.5L208.1 375.1ZM180.2 360.2L173.0 357.0L175.5 352.2L182.4 356.1ZM182.4 356.1L175.5 352.2L178.5 347.7L185.0 352.1ZM190.8 316.4L186.9 309.7L193.6 306.3L197.0 313.3ZM180.2 278.4L176.9 271.4L187.1 267.3L189.8 274.5ZM176.9 271.4L173.5 264.4L184.4 260.1L187.1 267.3ZM173.5 264.4L170.2 257.5L181.7 252.9L184.4 260.1Z"/>
<path fill="#f6e5aa" stroke="#f6e5aa" stroke-width="0.4" d="M281.5 324.1L286.6 318.2L292.2 323.2L286.6 328.6ZM266.5 366.7L273.6 363.5L275.2 367.2L267.8 369.8ZM260.3 372.5L267.8 369.8L268.8 373.0L261.2 375.0ZM238.4 383.0L246.4 383.0L246.3 384.3L238.4 383.7ZM262.2 383.0L270.2 383.0L270.0 386.4L262.1 385.7ZM261.8 388.3L269.6 389.7L268.8 393.0L261.2 391.0ZM261.2 391.0L268.8 393.0L267.8 396.2L260.3 393.5ZM307.1 402.9L314.8 404.9L312.5 411.9L305.0 409.3ZM314.8 404.9L322.5 406.9L320.0 414.6L312.5 411.9ZM327.4 417.2L334.9 419.8L331.2 428.5L324.0 425.3ZM334.9 419.8L342.3 422.5L338.4 431.8L331.2 428.5ZM286.6 447.8L291.7 453.7L285.1 458.6L280.6 452.3ZM253.1 464.8L255.1 472.2L247.0 473.9L245.7 466.4ZM230.5 475.3L230.5 483.0L221.5 482.6L222.2 475.0ZM230.5 506.1L230.5 513.8L218.7 513.3L219.4 505.6ZM163.6 437.4L157.6 442.4L152.5 436.0L159.0 431.5ZM139.3 457.2L133.3 462.1L126.5 453.6L133.0 449.2ZM126.5 453.6L120.0 458.0L113.7 448.4L120.6 444.6ZM120.0 458.0L113.5 462.4L106.8 452.3L113.7 448.4ZM141.2 433.0L134.3 436.9L129.8 428.5L137.0 425.3ZM120.6 444.6L113.7 448.4L108.3 438.3L115.5 435.0ZM156.0 409.3L148.5 411.9L146.2 404.9L153.9 402.9ZM173.0 357.0L165.8 353.7L168.7 348.4L175.5 352.2ZM165.8 353.7L158.6 350.5L161.8 344.5L168.7 348.4ZM175.5 352.2L168.7 348.4L172.0 343.3L178.5 347.7ZM168.7 348.4L161.8 344.5L165.5 338.9L172.0 343.3ZM180.0 334.0L174.4 328.6L179.5 324.1L184.6 330.0ZM174.4 328.6L168.8 323.2L174.4 318.2L179.5 324.1ZM186.9 292.3L183.6 285.4L192.5 281.8L195.2 289.0Z"/>
<path fill="#fae29d" stroke="#fae29d" stroke-width="0.4" d="M291.7 312.3L296.8 306.4L303.4 312.3L297.8 317.7ZM286.6 328.6L292.2 323.2L297.4 328.6L291.3 333.5ZM324.3 367.0L332.1 365.6L333.2 374.3L325.3 375.0ZM363.3 360.3L371.1 358.9L372.8 370.9L364.9 371.6ZM270.0 379.6L277.9 379.0L278.1 383.0L270.2 383.0ZM299.5 400.9L307.1 402.9L305.0 409.3L297.6 406.7ZM312.5 411.9L320.0 414.6L316.8 422.0L309.6 418.8ZM320.0 414.6L327.4 417.2L324.0 425.3L316.8 422.0ZM276.4 436.0L281.5 441.9L276.0 446.0L271.5 439.7ZM280.6 452.3L285.1 458.6L278.1 463.0L274.1 456.3ZM252.2 440.8L254.9 448.1L249.0 449.9L246.9 442.5ZM254.9 448.1L257.6 455.3L251.0 457.3L249.0 449.9ZM249.0 449.9L251.0 457.3L244.3 458.8L242.9 451.2ZM238.1 467.3L238.8 475.0L230.5 475.3L230.5 467.6ZM240.9 498.0L241.6 505.6L230.5 506.1L230.5 498.4ZM210.4 424.8L207.0 431.8L202.7 429.6L206.7 423.0ZM151.5 447.3L145.4 452.2L139.5 444.8L146.0 440.4ZM145.4 452.2L139.3 457.2L133.0 449.2L139.5 444.8ZM207.1 379.0L199.2 377.7L199.8 375.0L207.5 377.0ZM215.2 379.0L207.5 377.0L208.1 375.1L215.6 377.7ZM185.6 339.5L180.0 334.0L184.6 330.0L189.7 335.8ZM178.9 296.4L175.0 289.7L183.6 285.4L186.9 292.3ZM190.3 299.3L186.9 292.3L195.2 289.0L197.9 296.2ZM183.6 285.4L180.2 278.4L189.8 274.5L192.5 281.8Z"/>
<path fill="#fed484" stroke="#fed484" stroke-width="0.4" d="M332.1 365.6L339.9 364.3L341.1 373.6L333.2 374.3Z"/>
<path fill="#feda8a" stroke="#feda8a" stroke-width="0.4" d="M276.4 330.0L281.5 324.1L286.6 328.6L281.0 334.0ZM297.8 317.7L303.4 312.3L309.5 318.7L303.4 323.6ZM337.8 355.1L345.4 353.1L347.7 363.0L339.9 364.3ZM345.4 353.1L353.1 351.1L355.5 361.6L347.7 363.0ZM353.1 351.1L360.8 349.1L363.3 360.3L355.5 361.6ZM269.6 376.3L277.4 375.0L277.9 379.0L270.0 379.6ZM339.9 364.3L347.7 363.0L349.0 372.9L341.1 373.6ZM347.7 363.0L355.5 361.6L357.0 372.3L349.0 372.9ZM355.5 361.6L363.3 360.3L364.9 371.6L357.0 372.3ZM242.4 403.0L246.4 409.7L243.9 410.9L240.6 403.9ZM240.6 403.9L243.9 410.9L241.4 411.9L238.6 404.7Z"/>
<path fill="#fee090" stroke="#fee090" stroke-width="0.4" d="M286.6 318.2L291.7 312.3L297.8 317.7L292.2 323.2ZM281.0 334.0L286.6 328.6L291.3 333.5L285.2 338.5ZM292.2 323.2L297.8 317.7L303.4 323.6L297.4 328.6ZM322.5 359.1L330.1 357.1L332.1 365.6L324.3 367.0ZM330.1 357.1L337.8 355.1L339.9 364.3L332.1 365.6ZM360.8 349.1L368.4 347.2L371.1 358.9L363.3 360.3ZM305.0 409.3L312.5 411.9L309.6 418.8L302.4 415.5ZM257.6 455.3L260.3 462.5L253.1 464.8L251.0 457.3ZM260.3 462.5L263.1 469.8L255.1 472.2L253.1 464.8ZM251.0 457.3L253.1 464.8L245.7 466.4L244.3 458.8ZM238.8 475.0L239.5 482.6L230.5 483.0L230.5 475.3ZM239.5 482.6L240.2 490.3L230.5 490.7L230.5 483.0ZM240.2 490.3L240.9 498.0L230.5 498.4L230.5 490.7ZM241.6 505.6L242.3 513.3L230.5 513.8L230.5 506.1ZM207.0 431.8L203.7 438.8L198.8 436.3L202.7 429.6ZM157.6 442.4L151.5 447.3L146.0 440.4L152.5 436.0ZM152.5 436.0L146.0 440.4L141.2 433.0L148.1 429.2ZM146.0 440.4L139.5 444.8L134.3 436.9L141.2 433.0ZM139.5 444.8L133.0 449.2L127.4 440.7L134.3 436.9ZM163.4 406.7L156.0 409.3L153.9 402.9L161.5 400.9ZM186.9 309.7L182.9 303.0L190.3 299.3L193.6 306.3ZM182.9 303.0L178.9 296.4L186.9 292.3L190.3 299.3ZM175.0 289.7L171.0 283.0L180.2 278.4L183.6 285.4ZM171.0 283.0L167.0 276.4L176.9 271.4L180.2 278.4Z"/>
</g>
<g fill="none" stroke="#fcfca8" stroke-width="1">
<ellipse cx="230.5" cy="383.0" rx="47.6" ry="46.2"/>
<ellipse cx="230.5" cy="383.0" rx="95.2" ry="92.3"/>
<ellipse cx="230.5" cy="383.0" rx="142.8" ry="138.5"/>
<path d="M230.5 383.0L230.5 244.5M230.5 383.0L331.5 285.1M230.5 383.0L373.3 383.0M230.5 383.0L331.5 480.9M230.5 383.0L230.5 521.5M230.5 383.0L129.5 480.9M230.5 383.0L87.7 383.0M230.5 383.0L129.5 285.1"/>
</g>
<path d="M230.5 383.0L93.5 422" stroke="#ffa500" stroke-width="1.2" fill="none"/>
<circle cx="93.4" cy="422" r="3.4" fill="#ffa500"/>
<g class="s">
<path d="M212.0 271.5h7M215.5 268.0v7M187.0 287.5h7M190.5 284.0v7M141.0 279.5h7M144.5 276.0v7M300.0 268.5h7M303.5 265.0v7M293.0 276.5h7M296.5 273.0v7M320.0 278.5h7M323.5 275.0v7M329.0 303.5h7M332.5 300.0v7M343.0 313.5h7M346.5 310.0v7M355.0 336.5h7M358.5 333.0v7M300.0 330.5h7M303.5 327.0v7M226.0 310.5h7M229.5 307.0v7M217.0 314.5h7M220.5 311.0v7M241.0 314.5h7M244.5 311.0v7M257.0 308.5h7M260.5 305.0v7M257.0 313.5h7M260.5 310.0v7M191.0 318.5h7M194.5 315.0v7M197.0 330.5h7M200.5 327.0v7M130.0 319.5h7M133.5 316.0v7M160.0 324.5h7M163.5 321.0v7M111.0 328.5h7M114.5 325.0v7M123.0 340.5h7M126.5 337.0v7M124.0 340.5h7M127.5 337.0v7M116.0 356.5h7M119.5 353.0v7M150.0 341.5h7M153.5 338.0v7M155.0 346.5h7M158.5 343.0v7M145.0 353.5h7M148.5 350.0v7M91.0 353.5h7M94.5 350.0v7M110.0 359.5h7M113.5 356.0v7M165.0 362.5h7M168.5 359.0v7M177.0 359.5h7M180.5 356.0v7M212.0 361.5h7M215.5 358.0v7M231.0 359.5h7M234.5 356.0v7M232.0 369.5h7M235.5 366.0v7M206.0 372.5h7M209.5 369.0v7M224.0 376.5h7M227.5 373.0v7M238.0 385.5h7M241.5 382.0v7M202.0 388.5h7M205.5 385.0v7M205.0 391.5h7M208.5 388.0v7M254.0 393.5h7M257.5 390.0v7M262.0 404.5h7M265.5 401.0v7M284.0 380.5h7M287.5 377.0v7M296.0 397.5h7M299.5 394.0v7M113.0 396.5h7M116.5 393.0v7M189.0 410.5h7M192.5 407.0v7M195.0 423.5h7M198.5 420.0v7M215.0 434.5h7M218.5 431.0v7M161.0 428.5h7M164.5 425.0v7M165.0 442.5h7M168.5 439.0v7M154.0 453.5h7M157.5 450.0v7M160.0 457.5h7M163.5 454.0v7M119.0 455.5h7M122.5 452.0v7M124.0 457.5h7M127.5 454.0v7M132.0 471.5h7M135.5 468.0v7M142.0 470.5h7M145.5 467.0v7M141.0 478.5h7M144.5 475.0v7M275.0 437.5h7M278.5 434.0v7M272.0 441.5h7M275.5 438.0v7M275.0 448.5h7M278.5 445.0v7M297.0 456.5h7M300.5 453.0v7M306.0 456.5h7M309.5 453.0v7M310.0 465.5h7M313.5 462.0v7M335.0 455.5h7M338.5 452.0v7M201.0 519.5h7M204.5 516.0v7" stroke="#00ff00" stroke-width="1" fill="none" shape-rendering="crispEdges"/>
<text class="c" x="216.1" y="263.3">J195</text>
<text class="c" x="190.9" y="279.2">R15</text>
<text class="c" x="145.2" y="271.5">C37</text>
<text class="c" x="304.1" y="259.6">E10</text>
<text class="c" x="297.2" y="268.1">E11</text>
<text class="c" x="324.1" y="270.3">G08</text>
<text class="c" x="333.0" y="295.4">C14</text>
<text class="c" x="347.1" y="305.2">R02</text>
<text class="c" x="359.4" y="328.2">G27</text>
<text class="c" x="304.1" y="322.1">C33</text>
<text class="c" x="230.2" y="302.1">C01</text>
<text class="c" x="221.1" y="306.2">C59</text>
<text class="c" x="245.0" y="305.9">G03</text>
<text class="c" x="260.9" y="300.3">G02</text>
<text class="c" x="260.9" y="304.6">S04</text>
<text class="c" x="195.3" y="309.6">J199</text>
<text class="c" x="200.9" y="322.3">G23</text>
<text class="c" x="134.1" y="311.3">C09</text>
<text class="c" x="163.8" y="316.0">C03</text>
<text class="c" x="115.1" y="320.2">G30</text>
<text class="c" x="127.0" y="331.6">J200</text>
<text class="c" x="128.1" y="332.2">J201</text>
<text class="c" x="120.0" y="347.6">J202</text>
<text class="c" x="153.9" y="332.9">C06</text>
<text class="c" x="159.4" y="338.5">C16</text>
<text class="c" x="149.2" y="345.0">G07</text>
<text class="c" x="95.0" y="345.2">R19</text>
<text class="c" x="114.0" y="350.9">C60</text>
<text class="c" x="168.8" y="354.4">C39</text>
<text class="c" x="180.9" y="351.2">E05</text>
<text class="c" x="215.9" y="353.1">E38</text>
<text class="c" x="234.7" y="351.5">R14</text>
<text class="c" x="235.8" y="361.1">J196</text>
<text class="c" x="209.5" y="364.4">C38</text>
<text class="c" x="227.8" y="367.6">E13</text>
<text class="c" x="242.3" y="377.2">C41</text>
<text class="c" x="206.3" y="380.5">C08</text>
<text class="c" x="208.6" y="383.4">C36</text>
<text class="c" x="258.2" y="385.3">C25</text>
<text class="c" x="265.9" y="396.0">G04</text>
<text class="c" x="287.9" y="372.0">R03</text>
<text class="c" x="299.7" y="389.1">G16</text>
<text class="c" x="117.0" y="388.5">G06</text>
<text class="c" x="192.5" y="402.0">C13</text>
<text class="c" x="199.0" y="414.9">G09</text>
<text class="c" x="219.0" y="425.8">R04</text>
<text class="c" x="164.5" y="420.2">C56</text>
<text class="c" x="169.3" y="434.4">C32</text>
<text class="c" x="157.7" y="444.6">E34</text>
<text class="c" x="163.9" y="448.8">E22</text>
<text class="c" x="122.8" y="446.7">R20</text>
<text class="c" x="127.6" y="449.5">R28</text>
<text class="c" x="136.2" y="463.1">G13</text>
<text class="c" x="145.8" y="461.8">R05</text>
<text class="c" x="144.7" y="470.0">E15</text>
<text class="c" x="278.6" y="429.0">E06</text>
<text class="c" x="275.7" y="433.1">E09</text>
<text class="c" x="279.0" y="439.9">R13</text>
<text class="c" x="300.7" y="448.1">E04</text>
<text class="c" x="309.7" y="447.6">G26</text>
<text class="c" x="313.9" y="457.5">G24</text>
<text class="c" x="339.1" y="447.0">G31</text>
<text class="c" x="205.0" y="510.8">R21</text>
</g>
<defs>
<linearGradient id="gA" gradientUnits="userSpaceOnUse" x1="678.8" y1="297.0" x2="653.4" y2="444.8">
<stop offset="0" stop-color="#f7ecc9"/>
<stop offset="0.08" stop-color="#f8e9be"/>
<stop offset="0.12" stop-color="#fbe2a6"/>
<stop offset="0.3" stop-color="#fbe2a8"/>
<stop offset="0.4" stop-color="#fbe5b0"/>
<stop offset="0.46" stop-color="#f6ebca"/>
<stop offset="0.52" stop-color="#e9f2ec"/>
<stop offset="0.58" stop-color="#d9edf4"/>
<stop offset="0.68" stop-color="#c3e2ef"/>
<stop offset="0.85" stop-color="#acd5e9"/>
<stop offset="1" stop-color="#9fcde4"/>
</linearGradient>
<linearGradient id="gB" gradientUnits="userSpaceOnUse" x1="821.7" y1="314.9" x2="838.3" y2="393.1">
<stop offset="0" stop-color="#f8e9bd"/>
<stop offset="0.3" stop-color="#fae5b2"/>
<stop offset="0.45" stop-color="#f8eac4"/>
<stop offset="0.51" stop-color="#eef1e4"/>
<stop offset="0.57" stop-color="#dff0f5"/>
<stop offset="0.65" stop-color="#cde7f2"/>
<stop offset="0.78" stop-color="#b2d7ea"/>
<stop offset="1" stop-color="#9ac8e1"/>
</linearGradient>
<linearGradient id="gM" gradientUnits="userSpaceOnUse" x1="802" y1="374" x2="824" y2="360"><stop offset="0" stop-color="#fff" stop-opacity="0"/><stop offset="1" stop-color="#fff" stop-opacity="1"/></linearGradient>
<mask id="mR" maskUnits="userSpaceOnUse" x="560" y="280" width="360" height="200"><rect x="560" y="280" width="360" height="200" fill="url(#gM)"/></mask>
<filter id="txL" x="0" y="0" width="100%" height="100%" color-interpolation-filters="sRGB"><feTurbulence type="fractalNoise" baseFrequency="0.3 0.05" numOctaves="2" seed="5"/><feColorMatrix type="matrix" values="0 0 0 0 1  0 0 0 0 1  0 0 0 0 1  1.7 0 0 0 -0.78"/></filter>
<filter id="txD" x="0" y="0" width="100%" height="100%" color-interpolation-filters="sRGB"><feTurbulence type="fractalNoise" baseFrequency="0.26 0.045" numOctaves="2" seed="11"/><feColorMatrix type="matrix" values="0 0 0 0 0.42  0 0 0 0 0.66  0 0 0 0 0.82  0 1.6 0 0 -0.76"/></filter>
<linearGradient id="gT" gradientUnits="userSpaceOnUse" x1="678.8" y1="297.0" x2="653.4" y2="444.8"><stop offset="0" stop-color="#fff" stop-opacity="0.05"/><stop offset="0.42" stop-color="#fff" stop-opacity="0.1"/><stop offset="0.62" stop-color="#fff" stop-opacity="0.85"/></linearGradient>
<linearGradient id="gT2" gradientUnits="userSpaceOnUse" x1="821.7" y1="314.9" x2="838.3" y2="393.1"><stop offset="0" stop-color="#fff" stop-opacity="0.05"/><stop offset="0.5" stop-color="#fff" stop-opacity="0.1"/><stop offset="0.66" stop-color="#fff" stop-opacity="0.85"/></linearGradient>
<mask id="mT" maskUnits="userSpaceOnUse" x="560" y="280" width="360" height="200"><rect x="560" y="280" width="360" height="200" fill="url(#gT)"/><g mask="url(#mR)"><rect x="560" y="280" width="360" height="200" fill="#000"/><rect x="560" y="280" width="360" height="200" fill="url(#gT2)"/></g></mask>
<clipPath id="cS"><polygon points="581.1,398.2 582.8,396.2 584.4,395.3 586.1,393.7 587.8,392.2 589.4,391.4 591.0,390.2 592.7,388.0 594.4,386.7 596.0,386.3 597.9,383.2 599.7,378.9 600.9,364.1 603.4,351.7 605.2,344.5 607.1,338.1 609.2,336.0 611.2,335.7 613.3,333.2 614.9,332.7 616.6,333.0 618.2,331.9 619.9,331.8 621.6,330.5 623.2,330.7 624.9,330.2 626.6,329.9 628.4,328.5 630.1,328.2 631.8,327.0 633.5,325.2 635.1,322.1 636.8,320.8 638.4,318.8 640.1,316.0 641.7,313.4 643.6,312.4 645.4,311.3 647.2,312.2 649.1,310.9 650.9,310.8 652.6,311.1 654.4,311.3 656.2,310.9 658.0,311.2 659.7,310.1 661.5,310.2 663.6,311.4 665.6,311.4 667.7,312.1 669.5,309.2 671.4,304.7 673.2,303.8 675.1,300.9 676.9,299.4 678.8,298.5 680.4,298.4 682.1,300.1 683.7,299.5 685.4,300.2 687.0,300.0 688.7,300.7 690.3,300.9 692.0,301.2 693.6,301.8 695.3,302.2 697.1,302.4 698.8,303.2 700.5,303.1 702.2,303.8 704.0,303.9 705.7,304.4 707.4,304.0 709.2,303.4 710.9,304.2 712.6,305.1 714.4,305.5 716.1,305.7 717.9,305.3 719.6,305.8 721.3,305.2 723.1,306.5 724.8,306.3 726.6,306.1 728.3,306.7 730.0,306.3 731.8,308.1 733.5,308.7 735.2,307.5 736.9,309.2 738.7,308.8 740.4,308.7 742.1,309.4 743.8,310.6 745.6,311.2 747.3,310.9 748.9,310.4 750.6,311.7 752.2,311.0 753.9,312.5 755.5,312.1 757.2,313.4 758.9,313.9 760.5,313.4 762.1,314.6 763.8,313.6 765.5,313.5 767.1,314.6 768.8,315.1 770.4,314.4 772.0,315.0 773.7,315.7 775.4,316.3 777.0,315.8 778.6,315.9 780.3,317.7 782.0,317.0 783.6,318.5 785.2,318.7 786.9,318.3 788.6,318.3 790.4,318.7 792.1,319.1 793.8,319.6 795.5,319.7 797.3,319.9 799.0,320.3 800.7,321.1 802.5,320.6 804.2,320.8 805.8,320.9 807.5,321.7 809.1,321.1 810.8,321.4 812.4,322.9 814.1,322.3 815.7,322.6 817.4,321.9 819.0,322.9 820.7,323.4 822.3,322.6 824.0,324.0 825.6,324.2 827.3,323.5 828.9,324.5 830.5,325.1 832.2,325.1 833.8,325.8 835.5,325.6 837.1,326.5 838.8,326.9 840.4,326.0 842.1,326.4 843.7,327.8 845.4,328.7 847.0,327.7 848.7,328.4 850.3,329.0 852.0,328.8 853.6,329.5 855.3,329.5 857.0,329.7 858.7,330.1 860.4,330.7 862.1,330.5 863.7,330.9 865.4,331.8 867.1,330.8 868.8,332.0 870.5,332.6 872.2,332.4 874.0,335.5 875.9,339.3 877.8,341.9 879.6,346.0 881.4,348.1 883.3,351.7 885.1,353.6 887.0,356.5 888.9,359.5 890.7,361.6 892.4,361.5 894.0,362.5 895.7,363.2 897.3,364.7 899.0,364.6 900.6,365.3 903.8,378.9 903.1,385.1 900.6,386.3 898.8,387.5 896.9,386.1 895.1,386.9 893.2,387.6 891.1,389.2 889.1,391.1 887.0,391.3 885.4,387.4 883.7,383.1 882.1,380.1 880.4,379.1 878.8,380.2 877.1,380.1 875.0,381.0 873.0,384.2 870.9,385.1 869.2,387.2 867.5,386.8 865.7,388.2 864.0,390.9 862.3,391.3 860.2,388.4 858.2,385.5 856.1,381.4 854.5,380.4 852.8,379.2 851.2,379.0 849.5,379.7 847.9,377.7 846.2,377.7 844.4,376.7 842.5,376.2 840.6,375.6 838.8,375.2 836.3,382.6 833.9,365.3 831.4,361.6 829.3,363.4 827.3,366.8 825.2,367.8 823.4,367.3 821.5,367.3 819.7,370.2 817.8,370.5 816.0,371.1 814.1,370.3 812.5,371.1 810.8,373.5 809.2,374.5 807.5,373.6 805.9,376.0 804.2,376.4 802.4,377.9 800.5,378.1 798.6,378.3 796.8,378.9 795.1,380.8 793.5,383.4 791.8,386.3 789.3,398.7 788.1,411.1 785.6,428.4 783.6,432.6 781.5,437.1 779.5,443.2 777.4,446.3 775.4,448.4 773.3,451.9 771.6,452.3 770.0,449.9 768.3,450.6 766.2,447.1 764.2,442.0 762.1,437.0 760.5,437.7 758.8,437.2 757.2,435.8 755.4,438.7 753.5,439.7 751.6,440.1 749.8,443.2 747.6,445.7 745.5,446.9 743.6,447.0 741.8,448.2 740.0,450.1 738.1,450.6 736.2,451.9 734.4,452.9 732.6,455.5 730.7,455.6 728.6,450.9 726.6,445.3 724.5,440.7 722.6,440.1 720.8,440.7 719.0,434.2 717.1,425.9 715.2,425.2 713.4,424.6 711.8,429.1 710.1,431.7 708.5,435.8 706.8,434.6 705.2,435.0 703.5,434.5 701.9,435.9 700.2,434.9 698.5,437.1 696.9,438.1 695.2,438.4 693.6,438.2 691.2,428.4 689.1,429.6 687.1,427.9 685.0,429.6 682.9,425.0 680.9,420.7 678.8,414.8 677.1,414.4 675.5,415.8 673.8,417.2 672.2,416.2 670.5,416.5 668.9,416.0 667.0,417.4 665.2,419.2 663.3,421.7 661.5,421.3 659.6,423.1 657.8,425.9 655.7,424.1 653.7,423.3 651.6,423.4 649.8,422.9 647.9,425.9 646.1,426.2 644.2,425.9 642.5,422.8 640.9,421.8 639.2,419.7 637.6,420.5 635.9,421.7 634.3,423.4 632.4,424.6 630.6,426.9 628.8,428.3 626.9,429.6 625.2,421.8 623.6,413.9 621.9,407.3 620.2,407.6 618.5,407.8 616.7,409.7 615.0,410.8 613.3,411.0 611.6,411.9 609.8,412.4 608.1,413.9 606.3,415.6 604.6,417.2 602.8,416.2 600.9,415.5 599.1,413.2 597.2,412.3 595.4,413.6 593.5,413.7 591.7,413.7 589.8,414.1 588.0,415.0 586.1,415.5"/></clipPath>
</defs>
<g id="waterfall">
<g fill="none" stroke="#fcfca8" stroke-width="1" shape-rendering="crispEdges">
<path d="M511.5 461.5V302M511.5 302.5h7.5M511.5 329.5h7.5M511.5 356.5h7.5M511.5 382.5h7.5M511.5 408.5h7.5M511.5 435.5h7.5M511.5 461.5h7.5"/>
</g>
<g fill="none" stroke="#fcfca8" stroke-width="1" shape-rendering="crispEdges">
<path d="M511.5 461.5L779.0 507.5L933.5 428.0L666.0 382.0ZM511.5 461.5l4.6 -2.4M666.0 382.0l-4.6 2.4M556.1 469.2l2.3 -1.2M710.6 389.7l-2.3 1.2M600.7 476.8l4.6 -2.4M755.2 397.3l-4.6 2.4M645.2 484.5l2.3 -1.2M799.8 405.0l-2.3 1.2M689.8 492.2l4.6 -2.4M844.3 412.7l-4.6 2.4M734.4 499.8l2.3 -1.2M888.9 420.3l-2.3 1.2M779.0 507.5l4.6 -2.4M933.5 428.0l-4.6 2.4M779.0 507.5l-8.9 -1.5M511.5 461.5l8.9 1.5M801.1 496.1l-8.9 -1.5M533.6 450.1l8.9 1.5M823.1 484.8l-8.9 -1.5M555.6 438.8l8.9 1.5M845.2 473.4l-8.9 -1.5M577.7 427.4l8.9 1.5M867.3 462.1l-8.9 -1.5M599.8 416.1l8.9 1.5M889.4 450.7l-8.9 -1.5M621.9 404.7l8.9 1.5M911.4 439.4l-8.9 -1.5M643.9 393.4l8.9 1.5M933.5 428.0l-8.9 -1.5M666.0 382.0l8.9 1.5"/>
</g>
<polygon points="581.1,398.2 582.8,396.2 584.4,395.3 586.1,393.7 587.8,392.2 589.4,391.4 591.0,390.2 592.7,388.0 594.4,386.7 596.0,386.3 597.9,383.2 599.7,378.9 600.9,364.1 603.4,351.7 605.2,344.5 607.1,338.1 609.2,336.0 611.2,335.7 613.3,333.2 614.9,332.7 616.6,333.0 618.2,331.9 619.9,331.8 621.6,330.5 623.2,330.7 624.9,330.2 626.6,329.9 628.4,328.5 630.1,328.2 631.8,327.0 633.5,325.2 635.1,322.1 636.8,320.8 638.4,318.8 640.1,316.0 641.7,313.4 643.6,312.4 645.4,311.3 647.2,312.2 649.1,310.9 650.9,310.8 652.6,311.1 654.4,311.3 656.2,310.9 658.0,311.2 659.7,310.1 661.5,310.2 663.6,311.4 665.6,311.4 667.7,312.1 669.5,309.2 671.4,304.7 673.2,303.8 675.1,300.9 676.9,299.4 678.8,298.5 680.4,298.4 682.1,300.1 683.7,299.5 685.4,300.2 687.0,300.0 688.7,300.7 690.3,300.9 692.0,301.2 693.6,301.8 695.3,302.2 697.1,302.4 698.8,303.2 700.5,303.1 702.2,303.8 704.0,303.9 705.7,304.4 707.4,304.0 709.2,303.4 710.9,304.2 712.6,305.1 714.4,305.5 716.1,305.7 717.9,305.3 719.6,305.8 721.3,305.2 723.1,306.5 724.8,306.3 726.6,306.1 728.3,306.7 730.0,306.3 731.8,308.1 733.5,308.7 735.2,307.5 736.9,309.2 738.7,308.8 740.4,308.7 742.1,309.4 743.8,310.6 745.6,311.2 747.3,310.9 748.9,310.4 750.6,311.7 752.2,311.0 753.9,312.5 755.5,312.1 757.2,313.4 758.9,313.9 760.5,313.4 762.1,314.6 763.8,313.6 765.5,313.5 767.1,314.6 768.8,315.1 770.4,314.4 772.0,315.0 773.7,315.7 775.4,316.3 777.0,315.8 778.6,315.9 780.3,317.7 782.0,317.0 783.6,318.5 785.2,318.7 786.9,318.3 788.6,318.3 790.4,318.7 792.1,319.1 793.8,319.6 795.5,319.7 797.3,319.9 799.0,320.3 800.7,321.1 802.5,320.6 804.2,320.8 805.8,320.9 807.5,321.7 809.1,321.1 810.8,321.4 812.4,322.9 814.1,322.3 815.7,322.6 817.4,321.9 819.0,322.9 820.7,323.4 822.3,322.6 824.0,324.0 825.6,324.2 827.3,323.5 828.9,324.5 830.5,325.1 832.2,325.1 833.8,325.8 835.5,325.6 837.1,326.5 838.8,326.9 840.4,326.0 842.1,326.4 843.7,327.8 845.4,328.7 847.0,327.7 848.7,328.4 850.3,329.0 852.0,328.8 853.6,329.5 855.3,329.5 857.0,329.7 858.7,330.1 860.4,330.7 862.1,330.5 863.7,330.9 865.4,331.8 867.1,330.8 868.8,332.0 870.5,332.6 872.2,332.4 874.0,335.5 875.9,339.3 877.8,341.9 879.6,346.0 881.4,348.1 883.3,351.7 885.1,353.6 887.0,356.5 888.9,359.5 890.7,361.6 892.4,361.5 894.0,362.5 895.7,363.2 897.3,364.7 899.0,364.6 900.6,365.3 903.8,378.9 903.1,385.1 900.6,386.3 898.8,387.5 896.9,386.1 895.1,386.9 893.2,387.6 891.1,389.2 889.1,391.1 887.0,391.3 885.4,387.4 883.7,383.1 882.1,380.1 880.4,379.1 878.8,380.2 877.1,380.1 875.0,381.0 873.0,384.2 870.9,385.1 869.2,387.2 867.5,386.8 865.7,388.2 864.0,390.9 862.3,391.3 860.2,388.4 858.2,385.5 856.1,381.4 854.5,380.4 852.8,379.2 851.2,379.0 849.5,379.7 847.9,377.7 846.2,377.7 844.4,376.7 842.5,376.2 840.6,375.6 838.8,375.2 836.3,382.6 833.9,365.3 831.4,361.6 829.3,363.4 827.3,366.8 825.2,367.8 823.4,367.3 821.5,367.3 819.7,370.2 817.8,370.5 816.0,371.1 814.1,370.3 812.5,371.1 810.8,373.5 809.2,374.5 807.5,373.6 805.9,376.0 804.2,376.4 802.4,377.9 800.5,378.1 798.6,378.3 796.8,378.9 795.1,380.8 793.5,383.4 791.8,386.3 789.3,398.7 788.1,411.1 785.6,428.4 783.6,432.6 781.5,437.1 779.5,443.2 777.4,446.3 775.4,448.4 773.3,451.9 771.6,452.3 770.0,449.9 768.3,450.6 766.2,447.1 764.2,442.0 762.1,437.0 760.5,437.7 758.8,437.2 757.2,435.8 755.4,438.7 753.5,439.7 751.6,440.1 749.8,443.2 747.6,445.7 745.5,446.9 743.6,447.0 741.8,448.2 740.0,450.1 738.1,450.6 736.2,451.9 734.4,452.9 732.6,455.5 730.7,455.6 728.6,450.9 726.6,445.3 724.5,440.7 722.6,440.1 720.8,440.7 719.0,434.2 717.1,425.9 715.2,425.2 713.4,424.6 711.8,429.1 710.1,431.7 708.5,435.8 706.8,434.6 705.2,435.0 703.5,434.5 701.9,435.9 700.2,434.9 698.5,437.1 696.9,438.1 695.2,438.4 693.6,438.2 691.2,428.4 689.1,429.6 687.1,427.9 685.0,429.6 682.9,425.0 680.9,420.7 678.8,414.8 677.1,414.4 675.5,415.8 673.8,417.2 672.2,416.2 670.5,416.5 668.9,416.0 667.0,417.4 665.2,419.2 663.3,421.7 661.5,421.3 659.6,423.1 657.8,425.9 655.7,424.1 653.7,423.3 651.6,423.4 649.8,422.9 647.9,425.9 646.1,426.2 644.2,425.9 642.5,422.8 640.9,421.8 639.2,419.7 637.6,420.5 635.9,421.7 634.3,423.4 632.4,424.6 630.6,426.9 628.8,428.3 626.9,429.6 625.2,421.8 623.6,413.9 621.9,407.3 620.2,407.6 618.5,407.8 616.7,409.7 615.0,410.8 613.3,411.0 611.6,411.9 609.8,412.4 608.1,413.9 606.3,415.6 604.6,417.2 602.8,416.2 600.9,415.5 599.1,413.2 597.2,412.3 595.4,413.6 593.5,413.7 591.7,413.7 589.8,414.1 588.0,415.0 586.1,415.5" fill="url(#gA)"/>
<g clip-path="url(#cS)"><rect x="760" y="290" width="160" height="180" fill="url(#gB)" mask="url(#mR)"/>
<g mask="url(#mT)"><g transform="rotate(22 740 380)"><rect x="520" y="180" width="440" height="400" filter="url(#txL)"/><rect x="520" y="180" width="440" height="400" filter="url(#txD)"/></g></g></g>
<path d="M612.5 312.5L747.5 242.5V402.5L612.5 471.5Z" fill="none" stroke="#e60000" stroke-width="1" shape-rendering="crispEdges"/>
<text class="e" x="495" y="306.3">0</text>
<text class="e" x="495" y="333.0">-20</text>
<text class="e" x="495" y="359.8">-40</text>
<text class="e" x="495" y="385.4">-60</text>
<text class="e" x="495" y="412.0">-80</text>
<text class="e" x="495" y="439.0">-100</text>
<text class="e" x="495" y="465.2">-120</text>
<text class="c" x="503.5" y="471.7">12:53:20</text>
<text class="c" x="592.6" y="486.9">12:53:40</text>
<text class="c" x="681.7" y="502.1">12:54:00</text>
<text class="c" x="770.8" y="517.3">12:54:20</text>
<text x="796.4" y="515.2">1560</text>
<text x="818.4" y="503.9">1565</text>
<text x="840.4" y="492.5">1570</text>
<text x="862.4" y="481.2">1575</text>
<text x="884.4" y="469.8">1580</text>
<text x="906.4" y="458.5">1585</text>
<text x="928.4" y="447.1">1590</text>
<text x="950.4" y="435.8">1595</text>
<text class="c" transform="translate(596.5 510.5) rotate(9.6)">Time (UTC)</text>
<text class="c" transform="translate(932 483.5) rotate(-26.9)">Frequency (MHz)</text>
<text class="c" transform="translate(437 383) rotate(-90)">PSD (dBm)</text>
</g>
<g id="maxrx" shape-rendering="crispEdges" fill="none" stroke="#fcfca8" stroke-width="1">
<path d="M90 669.5H991M690.5 632V708" stroke-dasharray="2 2" stroke="#bebebe"/>
<path d="M285 652.5H293M293 651.5H308M308 652.5H383M383 651.5H428M428 652.5H443M443 651.5H458M458 652.5H623M623 651.5H638M638 652.5H698M698 651.5H713M713 652.5H863M863 651.5H893M893 652.5H916" stroke="#f2f200"/>
<path d="M90.5 632.5H990.5V707.5H90.5ZM390.5 632.5v7.5M390.5 707.5v-7.5M690.5 632.5v7.5M690.5 707.5v-7.5M240.5 632.5v3.5M240.5 707.5v-3.5M540.5 632.5v3.5M540.5 707.5v-3.5M840.5 632.5v3.5M840.5 707.5v-3.5M90.5 669.5h7.5M990.5 669.5h-7.5"/>
<path d="M390.5 632V708" stroke="#e60000"/>
</g>
<text class="e" x="77" y="636">-80</text>
<text class="e" x="77" y="673">-100</text>
<text class="e" x="77" y="710.4">-120</text>
<text class="c" x="89" y="729.5">12:53:20</text>
<text class="c" x="389" y="729.5">12:53:40</text>
<text class="c" x="689" y="729.5">12:54:00</text>
<text class="c" x="989" y="729.5">12:54:20</text>
<text class="c" x="538" y="758">Time (UTC)</text>
<text class="c" transform="translate(20 671.5) rotate(-90)">Power (dBm)</text>
</svg></body></html>
